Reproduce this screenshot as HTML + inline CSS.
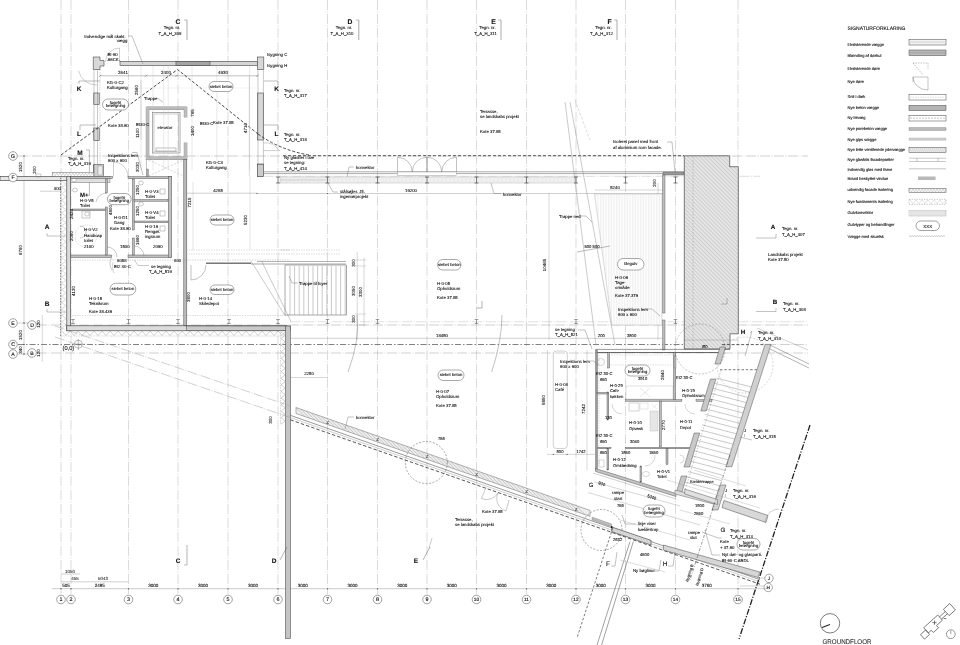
<!DOCTYPE html>
<html><head><meta charset="utf-8"><style>
html,body{margin:0;padding:0;background:#fff;width:960px;height:645px;overflow:hidden}
svg{display:block;will-change:transform;text-rendering:geometricPrecision;font-family:"Liberation Sans",sans-serif}
</style></head><body>
<svg width="960" height="645" viewBox="0 0 960 645">
<rect width="960" height="645" fill="#fff"/>
<line x1="61" y1="0" x2="61" y2="594" stroke="#cccccc" stroke-width="0.7" stroke-dasharray="10 1.5 1 1.5" />
<line x1="71" y1="0" x2="71" y2="594" stroke="#cccccc" stroke-width="0.7" stroke-dasharray="10 1.5 1 1.5" />
<line x1="128.5" y1="0" x2="128.5" y2="594" stroke="#cccccc" stroke-width="0.7" stroke-dasharray="10 1.5 1 1.5" />
<line x1="178" y1="0" x2="178" y2="594" stroke="#cccccc" stroke-width="0.7" stroke-dasharray="10 1.5 1 1.5" />
<line x1="228" y1="0" x2="228" y2="594" stroke="#cccccc" stroke-width="0.7" stroke-dasharray="10 1.5 1 1.5" />
<line x1="278" y1="0" x2="278" y2="594" stroke="#cccccc" stroke-width="0.7" stroke-dasharray="10 1.5 1 1.5" />
<line x1="327.5" y1="0" x2="327.5" y2="594" stroke="#cccccc" stroke-width="0.7" stroke-dasharray="10 1.5 1 1.5" />
<line x1="377.5" y1="0" x2="377.5" y2="594" stroke="#cccccc" stroke-width="0.7" stroke-dasharray="10 1.5 1 1.5" />
<line x1="427" y1="0" x2="427" y2="594" stroke="#cccccc" stroke-width="0.7" stroke-dasharray="10 1.5 1 1.5" />
<line x1="476.5" y1="0" x2="476.5" y2="594" stroke="#cccccc" stroke-width="0.7" stroke-dasharray="10 1.5 1 1.5" />
<line x1="526.5" y1="0" x2="526.5" y2="594" stroke="#cccccc" stroke-width="0.7" stroke-dasharray="10 1.5 1 1.5" />
<line x1="576" y1="0" x2="576" y2="594" stroke="#cccccc" stroke-width="0.7" stroke-dasharray="10 1.5 1 1.5" />
<line x1="625.5" y1="0" x2="625.5" y2="594" stroke="#cccccc" stroke-width="0.7" stroke-dasharray="10 1.5 1 1.5" />
<line x1="675.5" y1="0" x2="675.5" y2="594" stroke="#cccccc" stroke-width="0.7" stroke-dasharray="10 1.5 1 1.5" />
<line x1="738" y1="0" x2="738" y2="594" stroke="#cccccc" stroke-width="0.7" stroke-dasharray="10 1.5 1 1.5" />
<line x1="52" y1="588.7" x2="770" y2="588.7" stroke="#999" stroke-width="0.5" />
<circle cx="61" cy="588.7" r="0.7" fill="#666" stroke="none" stroke-width="0.5"/>
<circle cx="71" cy="588.7" r="0.7" fill="#666" stroke="none" stroke-width="0.5"/>
<circle cx="128.5" cy="588.7" r="0.7" fill="#666" stroke="none" stroke-width="0.5"/>
<circle cx="178" cy="588.7" r="0.7" fill="#666" stroke="none" stroke-width="0.5"/>
<circle cx="228" cy="588.7" r="0.7" fill="#666" stroke="none" stroke-width="0.5"/>
<circle cx="278" cy="588.7" r="0.7" fill="#666" stroke="none" stroke-width="0.5"/>
<circle cx="327.5" cy="588.7" r="0.7" fill="#666" stroke="none" stroke-width="0.5"/>
<circle cx="377.5" cy="588.7" r="0.7" fill="#666" stroke="none" stroke-width="0.5"/>
<circle cx="427" cy="588.7" r="0.7" fill="#666" stroke="none" stroke-width="0.5"/>
<circle cx="476.5" cy="588.7" r="0.7" fill="#666" stroke="none" stroke-width="0.5"/>
<circle cx="526.5" cy="588.7" r="0.7" fill="#666" stroke="none" stroke-width="0.5"/>
<circle cx="576" cy="588.7" r="0.7" fill="#666" stroke="none" stroke-width="0.5"/>
<circle cx="625.5" cy="588.7" r="0.7" fill="#666" stroke="none" stroke-width="0.5"/>
<circle cx="675.5" cy="588.7" r="0.7" fill="#666" stroke="none" stroke-width="0.5"/>
<circle cx="738" cy="588.7" r="0.7" fill="#666" stroke="none" stroke-width="0.5"/>
<text x="66.0" y="586.5" font-size="4.55" fill="#111" stroke="#111" stroke-width="0.1" text-anchor="middle" font-weight="normal" >505</text>
<text x="99.75" y="586.5" font-size="4.55" fill="#111" stroke="#111" stroke-width="0.1" text-anchor="middle" font-weight="normal" >2495</text>
<text x="153.25" y="586.5" font-size="4.55" fill="#111" stroke="#111" stroke-width="0.1" text-anchor="middle" font-weight="normal" >3000</text>
<text x="203.0" y="586.5" font-size="4.55" fill="#111" stroke="#111" stroke-width="0.1" text-anchor="middle" font-weight="normal" >3000</text>
<text x="253.0" y="586.5" font-size="4.55" fill="#111" stroke="#111" stroke-width="0.1" text-anchor="middle" font-weight="normal" >3000</text>
<text x="302.75" y="586.5" font-size="4.55" fill="#111" stroke="#111" stroke-width="0.1" text-anchor="middle" font-weight="normal" >3000</text>
<text x="352.5" y="586.5" font-size="4.55" fill="#111" stroke="#111" stroke-width="0.1" text-anchor="middle" font-weight="normal" >3000</text>
<text x="402.25" y="586.5" font-size="4.55" fill="#111" stroke="#111" stroke-width="0.1" text-anchor="middle" font-weight="normal" >3000</text>
<text x="451.75" y="586.5" font-size="4.55" fill="#111" stroke="#111" stroke-width="0.1" text-anchor="middle" font-weight="normal" >3000</text>
<text x="501.5" y="586.5" font-size="4.55" fill="#111" stroke="#111" stroke-width="0.1" text-anchor="middle" font-weight="normal" >3000</text>
<text x="551.25" y="586.5" font-size="4.55" fill="#111" stroke="#111" stroke-width="0.1" text-anchor="middle" font-weight="normal" >3000</text>
<text x="600.75" y="586.5" font-size="4.55" fill="#111" stroke="#111" stroke-width="0.1" text-anchor="middle" font-weight="normal" >3000</text>
<text x="650.5" y="586.5" font-size="4.55" fill="#111" stroke="#111" stroke-width="0.1" text-anchor="middle" font-weight="normal" >3000</text>
<text x="706.75" y="586.5" font-size="4.55" fill="#111" stroke="#111" stroke-width="0.1" text-anchor="middle" font-weight="normal" >3760</text>
<line x1="61" y1="581.8" x2="128.5" y2="581.8" stroke="#999" stroke-width="0.45" />
<text x="75" y="580" font-size="4.42" fill="#333" stroke="#333" stroke-width="0.1" text-anchor="middle" font-weight="normal" >455</text>
<text x="103" y="580" font-size="4.42" fill="#333" stroke="#333" stroke-width="0.1" text-anchor="middle" font-weight="normal" >5043</text>
<line x1="61" y1="574" x2="80" y2="574" stroke="#999" stroke-width="0.45" />
<text x="70" y="572.5" font-size="4.42" fill="#333" stroke="#333" stroke-width="0.1" text-anchor="middle" font-weight="normal" >1050</text>
<line x1="18" y1="156" x2="808" y2="156" stroke="#aaa" stroke-width="0.55" stroke-dasharray="10 1.5 1 1.5" />
<line x1="18" y1="177.5" x2="70" y2="177.5" stroke="#aaa" stroke-width="0.55" />
<line x1="18" y1="323" x2="40" y2="323" stroke="#aaa" stroke-width="0.55" stroke-dasharray="10 1.5 1 1.5" />
<line x1="290" y1="321.7" x2="808" y2="321.7" stroke="#c4c4c4" stroke-width="0.5" stroke-dasharray="10 1.5 1 1.5" />
<line x1="37" y1="325" x2="808" y2="325" stroke="#aaa" stroke-width="0.55" stroke-dasharray="10 1.5 1 1.5" />
<line x1="18" y1="344.5" x2="730" y2="344.5" stroke="#6a6a6a" stroke-width="0.85" stroke-dasharray="6 2 1.5 2" />
<line x1="766" y1="344.5" x2="808" y2="344.5" stroke="#aaa" stroke-width="0.55" stroke-dasharray="10 1.5 1 1.5" />
<line x1="37" y1="353" x2="808" y2="353" stroke="#aaa" stroke-width="0.55" stroke-dasharray="10 1.5 1 1.5" />
<line x1="18" y1="354" x2="36" y2="354" stroke="#aaa" stroke-width="0.55" />
<line x1="24" y1="156" x2="24" y2="355" stroke="#999" stroke-width="0.45" />
<text x="21.5" y="167" font-size="4.42" fill="#222" stroke="#222" stroke-width="0.1" text-anchor="middle" transform="rotate(-90 21.5 167)">1520</text>
<text x="21.5" y="250" font-size="4.42" fill="#222" stroke="#222" stroke-width="0.1" text-anchor="middle" transform="rotate(-90 21.5 250)">6760</text>
<text x="21.5" y="335" font-size="4.42" fill="#222" stroke="#222" stroke-width="0.1" text-anchor="middle" transform="rotate(-90 21.5 335)">1520</text>
<text x="21.5" y="350" font-size="4.42" fill="#222" stroke="#222" stroke-width="0.1" text-anchor="middle" transform="rotate(-90 21.5 350)">340</text>
<line x1="42.3" y1="315" x2="42.3" y2="362" stroke="#aaa" stroke-width="0.45" />
<text x="40" y="324" font-size="4.42" fill="#222" stroke="#222" stroke-width="0.1" text-anchor="middle" transform="rotate(-90 40 324)">120</text>
<text x="40" y="353" font-size="4.42" fill="#222" stroke="#222" stroke-width="0.1" text-anchor="middle" transform="rotate(-90 40 353)">120</text>
<circle cx="24" cy="156" r="0.7" fill="#555" stroke="none" stroke-width="0.5"/>
<circle cx="24" cy="177.5" r="0.7" fill="#555" stroke="none" stroke-width="0.5"/>
<circle cx="24" cy="323" r="0.7" fill="#555" stroke="none" stroke-width="0.5"/>
<circle cx="24" cy="344.5" r="0.7" fill="#555" stroke="none" stroke-width="0.5"/>
<circle cx="24" cy="354" r="0.7" fill="#555" stroke="none" stroke-width="0.5"/>
<rect x="120" y="61.3" width="137.5" height="4.2" fill="#d6d6d6" stroke="#444" stroke-width="0.6" />
<rect x="176" y="61.3" width="34" height="4.2" fill="#b0b0b0" stroke="#444" stroke-width="0.6" />
<line x1="178" y1="61.3" x2="178" y2="65.5" stroke="#666" stroke-width="0.3" />
<line x1="180" y1="61.3" x2="180" y2="65.5" stroke="#666" stroke-width="0.3" />
<line x1="182" y1="61.3" x2="182" y2="65.5" stroke="#666" stroke-width="0.3" />
<line x1="184" y1="61.3" x2="184" y2="65.5" stroke="#666" stroke-width="0.3" />
<line x1="186" y1="61.3" x2="186" y2="65.5" stroke="#666" stroke-width="0.3" />
<line x1="188" y1="61.3" x2="188" y2="65.5" stroke="#666" stroke-width="0.3" />
<line x1="190" y1="61.3" x2="190" y2="65.5" stroke="#666" stroke-width="0.3" />
<line x1="192" y1="61.3" x2="192" y2="65.5" stroke="#666" stroke-width="0.3" />
<line x1="194" y1="61.3" x2="194" y2="65.5" stroke="#666" stroke-width="0.3" />
<line x1="196" y1="61.3" x2="196" y2="65.5" stroke="#666" stroke-width="0.3" />
<line x1="198" y1="61.3" x2="198" y2="65.5" stroke="#666" stroke-width="0.3" />
<line x1="200" y1="61.3" x2="200" y2="65.5" stroke="#666" stroke-width="0.3" />
<line x1="202" y1="61.3" x2="202" y2="65.5" stroke="#666" stroke-width="0.3" />
<line x1="204" y1="61.3" x2="204" y2="65.5" stroke="#666" stroke-width="0.3" />
<line x1="206" y1="61.3" x2="206" y2="65.5" stroke="#666" stroke-width="0.3" />
<line x1="208" y1="61.3" x2="208" y2="65.5" stroke="#666" stroke-width="0.3" />
<polygon points="93.3,57 100,57 100,60.5 104,60.5 104,66 100,66 100,69.5 93.3,69.5" fill="#d8d8d8" stroke="#444" stroke-width="0.6" />
<rect x="257.5" y="57" width="6.3" height="12.5" fill="#d8d8d8" stroke="#444" stroke-width="0.6" />
<rect x="93.8" y="93" width="5.4" height="11.5" fill="#d8d8d8" stroke="#444" stroke-width="0.6" />
<rect x="93.8" y="128" width="5.4" height="12.5" fill="#d8d8d8" stroke="#444" stroke-width="0.6" />
<line x1="94" y1="69.5" x2="94" y2="165" stroke="#777" stroke-width="0.4" />
<line x1="97.5" y1="69.5" x2="97.5" y2="165" stroke="#777" stroke-width="0.4" />
<line x1="100" y1="69.5" x2="100" y2="165" stroke="#999" stroke-width="0.4" stroke-dasharray="1.5 1" />
<rect x="93.3" y="165" width="6.5" height="11.5" fill="#d8d8d8" stroke="#444" stroke-width="0.6" />
<rect x="257.5" y="93" width="5.8" height="47" fill="#d8d8d8" stroke="#444" stroke-width="0.6" />
<line x1="258" y1="69.5" x2="258" y2="164" stroke="#777" stroke-width="0.4" />
<line x1="263.4" y1="69.5" x2="263.4" y2="164" stroke="#777" stroke-width="0.4" />
<rect x="257.5" y="164" width="6" height="12.5" fill="#d8d8d8" stroke="#444" stroke-width="0.6" />
<line x1="100" y1="75.8" x2="257.5" y2="75.8" stroke="#777" stroke-width="0.45" />
<line x1="99" y1="76.8" x2="101" y2="74.8" stroke="#444" stroke-width="0.5" />
<line x1="145" y1="76.8" x2="147" y2="74.8" stroke="#444" stroke-width="0.5" />
<line x1="175.5" y1="76.8" x2="177.5" y2="74.8" stroke="#444" stroke-width="0.5" />
<line x1="256.5" y1="76.8" x2="258.5" y2="74.8" stroke="#444" stroke-width="0.5" />
<text x="123" y="73.5" font-size="4.42" fill="#111" stroke="#111" stroke-width="0.1" text-anchor="middle" font-weight="normal" >2641</text>
<text x="166" y="73.5" font-size="4.42" fill="#111" stroke="#111" stroke-width="0.1" text-anchor="middle" font-weight="normal" >2400</text>
<text x="223" y="73.5" font-size="4.42" fill="#111" stroke="#111" stroke-width="0.1" text-anchor="middle" font-weight="normal" >4930</text>
<path d="M186.8,117.5 L186.8,107 L146.3,107 L146.3,159.5 L186.8,159.5 L186.8,142.5" fill="none" stroke="#444" stroke-width="0.6" />
<path d="M184.3,117.5 L184.3,109.5 L148.8,109.5 L148.8,157 L184.3,157 L184.3,142.5" fill="none" stroke="#444" stroke-width="0.6" />
<rect x="146.3" y="107" width="40.5" height="2.5" fill="#bbb" stroke="none" stroke-width="0.6" />
<rect x="146.3" y="157" width="40.5" height="2.5" fill="#bbb" stroke="none" stroke-width="0.6" />
<rect x="146.3" y="107" width="2.5" height="52.5" fill="#bbb" stroke="none" stroke-width="0.6" />
<rect x="184.3" y="107" width="2.5" height="10.5" fill="#bbb" stroke="none" stroke-width="0.6" />
<rect x="184.3" y="142.5" width="2.5" height="17" fill="#bbb" stroke="none" stroke-width="0.6" />
<rect x="152.5" y="112.5" width="27.5" height="40.5" fill="none" stroke="#555" stroke-width="0.5" />
<rect x="154" y="114" width="24.5" height="37.5" fill="none" stroke="#888" stroke-width="0.4" />
<rect x="156" y="148" width="20" height="3" fill="none" stroke="#666" stroke-width="0.4" />
<text x="165" y="128.5" font-size="4.16" fill="#111" stroke="#111" stroke-width="0.1" text-anchor="middle" font-weight="normal" >elevator</text>
<rect x="183.8" y="159.5" width="3" height="166" fill="#bbb" stroke="#444" stroke-width="0.5" />
<polyline points="61,155 177.5,69.5 258,134" fill="none" stroke="#333" stroke-width="0.9" stroke-dasharray="3 1.8" />
<path d="M258,134 Q280,150 309,155" fill="none" stroke="#333" stroke-width="0.9" stroke-dasharray="3 1.8" />
<line x1="141" y1="66" x2="141" y2="170" stroke="#c4c4c4" stroke-width="0.4" />
<line x1="153" y1="66" x2="153" y2="170" stroke="#c4c4c4" stroke-width="0.4" />
<line x1="163.75" y1="66" x2="163.75" y2="170" stroke="#c4c4c4" stroke-width="0.4" />
<line x1="168.2" y1="66" x2="168.2" y2="170" stroke="#c4c4c4" stroke-width="0.4" />
<line x1="192" y1="66" x2="192" y2="170" stroke="#c4c4c4" stroke-width="0.4" />
<line x1="216.9" y1="66" x2="216.9" y2="170" stroke="#c4c4c4" stroke-width="0.4" />
<line x1="249.6" y1="66" x2="249.6" y2="170" stroke="#c4c4c4" stroke-width="0.4" />
<line x1="101" y1="88" x2="257" y2="88" stroke="#ddd" stroke-width="0.35" />
<path d="M79,81 L100,81" fill="none" stroke="#555" stroke-width="0.4" />
<path d="M80,125 L96,125" fill="none" stroke="#555" stroke-width="0.4" />
<path d="M78.6,70.7 A18.4,18.4 0 0 0 97,85" fill="none" stroke="#888" stroke-width="0.4" />
<path d="M119.5,62 V48 A14,14 0 0 0 105.5,62" fill="none" stroke="#888" stroke-width="0.4" />
<path d="M263.4,143 A16,16 0 0 1 279,150.6" fill="none" stroke="#888" stroke-width="0.4" />
<line x1="263.4" y1="150.6" x2="280" y2="150.6" stroke="#888" stroke-width="0.4" />
<text x="105" y="37.5" font-size="4.29" fill="#111" stroke="#111" stroke-width="0.1" text-anchor="middle" font-weight="normal" >Indvendige mål skakt.</text>
<text x="122" y="42" font-size="4.29" fill="#111" stroke="#111" stroke-width="0.1" text-anchor="middle" font-weight="normal" >vægg</text>
<polyline points="128,36 132,36 143,64" fill="none" stroke="#666" stroke-width="0.4" />
<text x="107.5" y="55.5" font-size="4.29" fill="#111" stroke="#111" stroke-width="0.1" text-anchor="start" font-weight="normal" >EI-60</text>
<text x="107.5" y="60.5" font-size="4.29" fill="#111" stroke="#111" stroke-width="0.1" text-anchor="start" font-weight="normal" >A6CK.</text>
<text x="267" y="56" font-size="4.29" fill="#111" stroke="#111" stroke-width="0.1" text-anchor="start" font-weight="normal" >Isygning C</text>
<text x="267" y="67" font-size="4.29" fill="#111" stroke="#111" stroke-width="0.1" text-anchor="start" font-weight="normal" >Isygning H</text>
<text x="79" y="90.5" font-size="6.5" fill="#111" stroke="#111" stroke-width="0.1" text-anchor="middle" font-weight="bold" >K</text>
<text x="79" y="135.5" font-size="6.5" fill="#111" stroke="#111" stroke-width="0.1" text-anchor="middle" font-weight="bold" >L</text>
<text x="276.5" y="90.5" font-size="6.5" fill="#111" stroke="#111" stroke-width="0.1" text-anchor="middle" font-weight="bold" >K</text>
<text x="276.5" y="135.5" font-size="6.5" fill="#111" stroke="#111" stroke-width="0.1" text-anchor="middle" font-weight="bold" >L</text>
<line x1="79" y1="81" x2="79" y2="84" stroke="#555" stroke-width="0.4" />
<line x1="80" y1="125" x2="80" y2="130" stroke="#555" stroke-width="0.4" />
<line x1="264" y1="81" x2="278" y2="81" stroke="#555" stroke-width="0.4" />
<line x1="278" y1="81" x2="278" y2="85" stroke="#555" stroke-width="0.4" />
<line x1="264" y1="125" x2="278" y2="125" stroke="#555" stroke-width="0.4" />
<line x1="278" y1="125" x2="278" y2="130" stroke="#555" stroke-width="0.4" />
<text x="284" y="91.5" font-size="4.29" fill="#111" stroke="#111" stroke-width="0.1" text-anchor="start" font-weight="normal" >Tegn. nr.</text>
<text x="284" y="97" font-size="4.29" fill="#111" stroke="#111" stroke-width="0.1" text-anchor="start" font-weight="normal" >T_A_H_317</text>
<text x="284" y="135.5" font-size="4.29" fill="#111" stroke="#111" stroke-width="0.1" text-anchor="start" font-weight="normal" >Tegn. nr.</text>
<text x="284" y="141" font-size="4.29" fill="#111" stroke="#111" stroke-width="0.1" text-anchor="start" font-weight="normal" >T_A_H_318</text>
<text x="107" y="84" font-size="4.29" fill="#111" stroke="#111" stroke-width="0.1" text-anchor="start" font-weight="normal" >KG-0-C2</text>
<text x="107" y="89" font-size="4.29" fill="#111" stroke="#111" stroke-width="0.1" text-anchor="start" font-weight="normal" >Kulturgang</text>
<rect x="209" y="81.5" width="24" height="10.0" fill="#fff" stroke="#555" stroke-width="0.5" rx="5.0" ry="5.0"/>
<text x="221.0" y="87.62" font-size="4.16" fill="#111" stroke="#111" stroke-width="0.1" text-anchor="middle" font-weight="normal" >siebet beton</text>
<rect x="102.5" y="99" width="26.0" height="11" fill="#fff" stroke="#555" stroke-width="0.5" rx="5.5" ry="5.5"/>
<text x="115.5" y="103.9" font-size="4.16" fill="#111" stroke="#111" stroke-width="0.1" text-anchor="middle" font-weight="normal" >fugefri</text>
<text x="115.5" y="107.38" font-size="4.16" fill="#111" stroke="#111" stroke-width="0.1" text-anchor="middle" font-weight="normal" >belægning</text>
<text x="144" y="99.5" font-size="4.29" fill="#111" stroke="#111" stroke-width="0.1" text-anchor="start" font-weight="normal" >Trappe</text>
<line x1="157" y1="98" x2="163" y2="102" stroke="#666" stroke-width="0.4" />
<text x="108" y="127" font-size="4.29" fill="#111" stroke="#111" stroke-width="0.1" text-anchor="start" font-weight="normal" >Kote  38.60</text>
<text x="136" y="125.5" font-size="4.29" fill="#111" stroke="#111" stroke-width="0.1" text-anchor="start" font-weight="normal" >EI30-C</text>
<text x="200" y="125" font-size="4.29" fill="#111" stroke="#111" stroke-width="0.1" text-anchor="start" font-weight="normal" >EI30-C</text>
<text x="213" y="124" font-size="4.29" fill="#111" stroke="#111" stroke-width="0.1" text-anchor="start" font-weight="normal" >Kote  37.85</text>
<text x="139" y="133" font-size="4.42" fill="#222" stroke="#222" stroke-width="0.1" text-anchor="middle" transform="rotate(-90 139 133)">1100</text>
<text x="194" y="113" font-size="4.42" fill="#222" stroke="#222" stroke-width="0.1" text-anchor="middle" transform="rotate(-90 194 113)">765</text>
<text x="194" y="131" font-size="4.42" fill="#222" stroke="#222" stroke-width="0.1" text-anchor="middle" transform="rotate(-90 194 131)">1400</text>
<text x="246.5" y="128" font-size="4.42" fill="#222" stroke="#222" stroke-width="0.1" text-anchor="middle" transform="rotate(-90 246.5 128)">4710</text>
<line x1="249.3" y1="76" x2="249.3" y2="176" stroke="#999" stroke-width="0.35" />
<text x="138" y="90" font-size="4.42" fill="#222" stroke="#222" stroke-width="0.1" text-anchor="middle" transform="rotate(-90 138 90)">2560</text>
<line x1="141" y1="80" x2="141" y2="140" stroke="#999" stroke-width="0.35" />
<text x="80" y="155" font-size="6.5" fill="#111" stroke="#111" stroke-width="0.1" text-anchor="middle" font-weight="bold" >M</text>
<text x="68" y="160" font-size="4.29" fill="#111" stroke="#111" stroke-width="0.1" text-anchor="start" font-weight="normal" >Tegn. nr.</text>
<text x="68" y="165" font-size="4.29" fill="#111" stroke="#111" stroke-width="0.1" text-anchor="start" font-weight="normal" >T_A_H_319</text>
<line x1="89.4" y1="150" x2="89.4" y2="196" stroke="#555" stroke-width="0.4" />
<line x1="86" y1="150" x2="89.4" y2="150" stroke="#555" stroke-width="0.4" />
<text x="108" y="157" font-size="4.29" fill="#111" stroke="#111" stroke-width="0.1" text-anchor="start" font-weight="normal" >Inspektions lem</text>
<text x="108" y="162" font-size="4.29" fill="#111" stroke="#111" stroke-width="0.1" text-anchor="start" font-weight="normal" >600 x 600</text>
<polyline points="132,152.5 137,152.5 143,175" fill="none" stroke="#666" stroke-width="0.4" />
<line x1="146.4" y1="159" x2="146.4" y2="169" stroke="#666" stroke-width="0.4" />
<rect x="146.4" y="169" width="2" height="7.7" fill="#aaa" stroke="#555" stroke-width="0.35" />
<path d="M148.5,160 L183.5,176 M148.5,176 L183.5,160" fill="none" stroke="#999" stroke-width="0.4" stroke-dasharray="2 1.5" />
<path d="M113.5,176.5 V162 A14.5,14.5 0 0 1 128,176.5" fill="none" stroke="#888" stroke-width="0.4" />
<text x="206" y="164" font-size="4.29" fill="#111" stroke="#111" stroke-width="0.1" text-anchor="start" font-weight="normal" >KG-0-C3</text>
<text x="206" y="169" font-size="4.29" fill="#111" stroke="#111" stroke-width="0.1" text-anchor="start" font-weight="normal" >Kulturgang</text>
<text x="284" y="159" font-size="4.29" fill="#111" stroke="#111" stroke-width="0.1" text-anchor="start" font-weight="normal" >Ny glastler i træ</text>
<text x="284" y="164" font-size="4.29" fill="#111" stroke="#111" stroke-width="0.1" text-anchor="start" font-weight="normal" >se tegning:</text>
<text x="284" y="169.5" font-size="4.29" fill="#111" stroke="#111" stroke-width="0.1" text-anchor="start" font-weight="normal" >T_A_H_414</text>
<text x="139" y="167" font-size="4.42" fill="#222" stroke="#222" stroke-width="0.1" text-anchor="middle" transform="rotate(-90 139 167)">3030</text>
<text x="178" y="24" font-size="6.76" fill="#111" stroke="#111" stroke-width="0.1" text-anchor="middle" font-weight="bold" >C</text>
<line x1="187" y1="20" x2="187" y2="40" stroke="#555" stroke-width="0.5" />
<line x1="184" y1="20" x2="187" y2="20" stroke="#555" stroke-width="0.4" />
<text x="172" y="29" font-size="4.29" fill="#111" stroke="#111" stroke-width="0.1" text-anchor="middle" font-weight="normal" >Tegn. nr.</text>
<text x="170" y="34.5" font-size="4.29" fill="#111" stroke="#111" stroke-width="0.1" text-anchor="middle" font-weight="normal" >T_A_H_309</text>
<text x="350" y="24" font-size="6.76" fill="#111" stroke="#111" stroke-width="0.1" text-anchor="middle" font-weight="bold" >D</text>
<line x1="358.8" y1="20" x2="358.8" y2="40" stroke="#555" stroke-width="0.5" />
<line x1="355.8" y1="20" x2="358.8" y2="20" stroke="#555" stroke-width="0.4" />
<text x="344" y="29" font-size="4.29" fill="#111" stroke="#111" stroke-width="0.1" text-anchor="middle" font-weight="normal" >Tegn. nr.</text>
<text x="342" y="34.5" font-size="4.29" fill="#111" stroke="#111" stroke-width="0.1" text-anchor="middle" font-weight="normal" >T_A_H_310</text>
<text x="493.5" y="24" font-size="6.76" fill="#111" stroke="#111" stroke-width="0.1" text-anchor="middle" font-weight="bold" >E</text>
<line x1="501" y1="20" x2="501" y2="40" stroke="#555" stroke-width="0.5" />
<line x1="498" y1="20" x2="501" y2="20" stroke="#555" stroke-width="0.4" />
<text x="487.5" y="29" font-size="4.29" fill="#111" stroke="#111" stroke-width="0.1" text-anchor="middle" font-weight="normal" >Tegn. nr.</text>
<text x="485.5" y="34.5" font-size="4.29" fill="#111" stroke="#111" stroke-width="0.1" text-anchor="middle" font-weight="normal" >T_A_H_311</text>
<text x="609.5" y="24" font-size="6.76" fill="#111" stroke="#111" stroke-width="0.1" text-anchor="middle" font-weight="bold" >F</text>
<line x1="617" y1="20" x2="617" y2="40" stroke="#555" stroke-width="0.5" />
<line x1="614" y1="20" x2="617" y2="20" stroke="#555" stroke-width="0.4" />
<text x="603.5" y="29" font-size="4.29" fill="#111" stroke="#111" stroke-width="0.1" text-anchor="middle" font-weight="normal" >Tegn. nr.</text>
<text x="601.5" y="34.5" font-size="4.29" fill="#111" stroke="#111" stroke-width="0.1" text-anchor="middle" font-weight="normal" >T_A_H_312</text>
<rect x="0" y="176.3" width="70.5" height="4.1" fill="#e6e6e6" stroke="#333" stroke-width="0.6" />
<rect x="66.8" y="176.3" width="3.9" height="154.5" fill="#dcdcdc" stroke="#333" stroke-width="0.6" />
<rect x="66.8" y="325.8" width="220" height="5" fill="#dcdcdc" stroke="#333" stroke-width="0.6" />
<rect x="186.5" y="326" width="104" height="4.5" fill="#cacaca" stroke="#444" stroke-width="0.5" />
<line x1="60.7" y1="172" x2="60.7" y2="336" stroke="#444" stroke-width="0.7" stroke-dasharray="1.6 1.2" />
<polyline points="62,331 66,335.5 70,331 74,335.5 78,331 82,335.5 86,331 90,335.5 94,331 98,335.5 102,331 106,335.5 110,331 114,335.5 118,331 122,335.5 126,331 130,335.5 134,331 138,335.5 142,331 146,335.5 150,331 154,335.5 158,331 162,335.5 166,331 170,335.5 174,331 178,335.5 182,331 186,335.5 190,331 194,335.5 198,331 202,335.5 206,331 210,335.5 214,331 218,335.5 222,331 226,335.5 230,331 234,335.5 238,331 242,335.5 246,331 250,335.5 254,331 258,335.5 262,331 266,335.5 270,331 274,335.5 278,331 282,335.5 286,331 290,335.5" fill="none" stroke="#888" stroke-width="0.4" />
<line x1="60.8" y1="336" x2="290" y2="336" stroke="#999" stroke-width="0.4" stroke-dasharray="1.5 1" />
<rect x="52.7" y="172.3" width="41.3" height="4" fill="#fff" stroke="#555" stroke-width="0.45" />
<polyline points="53.5,173 55.1,175.6 56.7,173 58.3,175.6 59.9,173 61.5,175.6 63.1,173 64.7,175.6 66.3,173 67.9,175.6 69.5,173 71.1,175.6 72.7,173 74.3,175.6 75.9,173 77.5,175.6 79.1,173 80.7,175.6 82.3,173 83.9,175.6 85.5,173 87.1,175.6 88.7,173 90.30000000000001,175.6 91.9,173 93.5,175.6" fill="none" stroke="#888" stroke-width="0.35" />
<rect x="94" y="164.3" width="9.7" height="12" fill="#d0d0d0" stroke="#444" stroke-width="0.5" />
<rect x="98" y="166" width="4.5" height="9" fill="#eee" stroke="#666" stroke-width="0.3" />
<polyline points="61.5,181.0 66.3,184.2 61.5,187.4 66.3,190.6 61.5,193.8 66.3,197.0 61.5,200.2 66.3,203.4 61.5,206.6 66.3,209.8 61.5,213.0 66.3,216.2 61.5,219.4 66.3,222.6 61.5,225.8 66.3,229.0 61.5,232.2 66.3,235.4 61.5,238.6 66.3,241.8 61.5,245.0 66.3,248.2 61.5,251.4 66.3,254.60000000000002 61.5,257.8 66.3,261.0 61.5,264.2 66.3,267.4 61.5,270.6 66.3,273.8 61.5,277.0 66.3,280.2 61.5,283.4 66.3,286.6 61.5,289.8 66.3,293.0 61.5,296.2 66.3,299.4 61.5,302.6 66.3,305.8 61.5,309.0 66.3,312.20000000000005 61.5,315.4 66.3,318.6 61.5,321.8 66.3,325.0 61.5,328.20000000000005" fill="none" stroke="#999" stroke-width="0.35" />
<rect x="70.7" y="176.3" width="39.3" height="6.3" fill="#e0e0e0" stroke="#555" stroke-width="0.4" />
<rect x="72" y="177.5" width="4" height="4" fill="#fff" stroke="#666" stroke-width="0.3" />
<rect x="70.8" y="176.7" width="41.7" height="1.9000000000000057" fill="#c0c0c0" stroke="#444" stroke-width="0.45" />
<rect x="128" y="176.7" width="43.69999999999999" height="1.9000000000000057" fill="#c0c0c0" stroke="#444" stroke-width="0.45" />
<rect x="70.8" y="255" width="40.900000000000006" height="2.5" fill="#c0c0c0" stroke="#444" stroke-width="0.45" />
<rect x="128" y="255" width="43.69999999999999" height="2.5" fill="#c0c0c0" stroke="#444" stroke-width="0.45" />
<rect x="168.3" y="176.7" width="3.3999999999999773" height="80.80000000000001" fill="#c0c0c0" stroke="#444" stroke-width="0.45" />
<rect x="105.6" y="179" width="1.7000000000000028" height="14" fill="#bbb" stroke="#444" stroke-width="0.4" />
<rect x="105.6" y="207" width="1.7000000000000028" height="48" fill="#bbb" stroke="#444" stroke-width="0.4" />
<rect x="132.4" y="179" width="1.9000000000000057" height="51" fill="#bbb" stroke="#444" stroke-width="0.4" />
<rect x="132.4" y="238" width="1.9000000000000057" height="17" fill="#bbb" stroke="#444" stroke-width="0.4" />
<rect x="72" y="209" width="34" height="1.5999999999999943" fill="#bbb" stroke="#444" stroke-width="0.4" />
<rect x="134" y="199.5" width="34" height="1.6999999999999886" fill="#bbb" stroke="#444" stroke-width="0.4" />
<rect x="134" y="221" width="34" height="1.6999999999999886" fill="#bbb" stroke="#444" stroke-width="0.4" />
<ellipse cx="75" cy="190" rx="2.4" ry="2" fill="none" stroke="#777" stroke-width="0.4"/>
<ellipse cx="141" cy="183" rx="2.4" ry="2" fill="none" stroke="#777" stroke-width="0.4"/>
<ellipse cx="141" cy="204" rx="2.4" ry="2" fill="none" stroke="#777" stroke-width="0.4"/>
<ellipse cx="87" cy="214" rx="2.4" ry="2" fill="none" stroke="#777" stroke-width="0.4"/>
<rect x="160" y="189" width="5" height="5" fill="none" stroke="#777" stroke-width="0.4" />
<rect x="160" y="211" width="5" height="5" fill="none" stroke="#777" stroke-width="0.4" />
<rect x="160" y="226" width="5" height="5" fill="none" stroke="#777" stroke-width="0.4" />
<rect x="82" y="211" width="8" height="7" fill="none" stroke="#777" stroke-width="0.4" />
<path d="M96,202 A11,11 0 0 1 107,193" fill="none" stroke="#777" stroke-width="0.4" />
<path d="M107,247 A10,10 0 0 1 117,257" fill="none" stroke="#777" stroke-width="0.4" />
<path d="M134,246 A10,10 0 0 1 144,256" fill="none" stroke="#777" stroke-width="0.4" />
<path d="M111.7,257.5 A12,12 0 0 0 112,270" fill="none" stroke="#777" stroke-width="0.4" />
<path d="M80,226 A6,6 0 0 1 80,238" fill="none" stroke="#777" stroke-width="0.4" />
<circle cx="86" cy="236" r="11" fill="none" stroke="#aaa" stroke-width="0.35" stroke-dasharray="1.5 1"/>
<text x="80" y="197" font-size="5.98" fill="#111" stroke="#111" stroke-width="0.1" text-anchor="start" font-weight="bold" >M+</text>
<text x="80" y="202" font-size="4.29" fill="#111" stroke="#111" stroke-width="0.1" text-anchor="start" font-weight="normal" >H-0-V5</text>
<text x="80" y="207" font-size="4.29" fill="#111" stroke="#111" stroke-width="0.1" text-anchor="start" font-weight="normal" >Toilet</text>
<text x="145" y="193" font-size="4.29" fill="#111" stroke="#111" stroke-width="0.1" text-anchor="start" font-weight="normal" >H-0-V3</text>
<text x="145" y="198.2" font-size="4.29" fill="#111" stroke="#111" stroke-width="0.1" text-anchor="start" font-weight="normal" >Toilet</text>
<text x="145" y="213.5" font-size="4.29" fill="#111" stroke="#111" stroke-width="0.1" text-anchor="start" font-weight="normal" >H-0-V4</text>
<text x="145" y="218.7" font-size="4.29" fill="#111" stroke="#111" stroke-width="0.1" text-anchor="start" font-weight="normal" >Toilet</text>
<text x="114" y="218.6" font-size="4.29" fill="#111" stroke="#111" stroke-width="0.1" text-anchor="start" font-weight="normal" >H-0-D1</text>
<text x="114" y="223.8" font-size="4.29" fill="#111" stroke="#111" stroke-width="0.1" text-anchor="start" font-weight="normal" >Gang</text>
<text x="110" y="230" font-size="4.29" fill="#111" stroke="#111" stroke-width="0.1" text-anchor="start" font-weight="normal" >Kote  38.60</text>
<text x="145" y="227.5" font-size="4.29" fill="#111" stroke="#111" stroke-width="0.1" text-anchor="start" font-weight="normal" >H-0-16</text>
<text x="145" y="233" font-size="4.29" fill="#111" stroke="#111" stroke-width="0.1" text-anchor="start" font-weight="normal" >Rengør.</text>
<text x="145" y="238" font-size="4.29" fill="#111" stroke="#111" stroke-width="0.1" text-anchor="start" font-weight="normal" >ingsrum</text>
<text x="84" y="231" font-size="4.29" fill="#111" stroke="#111" stroke-width="0.1" text-anchor="start" font-weight="normal" >H-0-V2</text>
<text x="84" y="236.5" font-size="4.29" fill="#111" stroke="#111" stroke-width="0.1" text-anchor="start" font-weight="normal" >Handicap</text>
<text x="84" y="242" font-size="4.29" fill="#111" stroke="#111" stroke-width="0.1" text-anchor="start" font-weight="normal" >toilet</text>
<text x="84" y="247.5" font-size="4.29" fill="#111" stroke="#111" stroke-width="0.1" text-anchor="start" font-weight="normal" >2100</text>
<text x="120" y="247.5" font-size="4.29" fill="#111" stroke="#111" stroke-width="0.1" text-anchor="start" font-weight="normal" >1500</text>
<text x="153" y="247.5" font-size="4.29" fill="#111" stroke="#111" stroke-width="0.1" text-anchor="start" font-weight="normal" >2090</text>
<text x="117" y="262" font-size="4.29" fill="#111" stroke="#111" stroke-width="0.1" text-anchor="start" font-weight="normal" >6058</text>
<text x="114" y="268" font-size="4.29" fill="#111" stroke="#111" stroke-width="0.1" text-anchor="start" font-weight="normal" >EI2 30-C</text>
<text x="151" y="267.5" font-size="4.29" fill="#111" stroke="#111" stroke-width="0.1" text-anchor="start" font-weight="normal" >se tegning</text>
<text x="149" y="272.5" font-size="4.29" fill="#111" stroke="#111" stroke-width="0.1" text-anchor="start" font-weight="normal" >T_A_H_519</text>
<text x="174" y="262" font-size="4.29" fill="#111" stroke="#111" stroke-width="0.1" text-anchor="start" font-weight="normal" >800</text>
<text x="89" y="300" font-size="4.29" fill="#111" stroke="#111" stroke-width="0.1" text-anchor="start" font-weight="normal" >H-0-15</text>
<text x="89" y="305" font-size="4.29" fill="#111" stroke="#111" stroke-width="0.1" text-anchor="start" font-weight="normal" >Teknikrum</text>
<text x="89" y="313" font-size="4.29" fill="#111" stroke="#111" stroke-width="0.1" text-anchor="start" font-weight="normal" >Kote  38.436</text>
<text x="53.8" y="189.5" font-size="4.29" fill="#111" stroke="#111" stroke-width="0.1" text-anchor="start" font-weight="normal" >300</text>
<text x="199" y="300" font-size="4.29" fill="#111" stroke="#111" stroke-width="0.1" text-anchor="start" font-weight="normal" >H-0-14</text>
<text x="199" y="305" font-size="4.29" fill="#111" stroke="#111" stroke-width="0.1" text-anchor="start" font-weight="normal" >Skiledepot</text>
<text x="62.5" y="349.5" font-size="5.72" fill="#111" stroke="#111" stroke-width="0.1" text-anchor="start" font-weight="normal" >(0,0)</text>
<rect x="107.4" y="193.5" width="23.799999999999983" height="11.199999999999989" fill="#fff" stroke="#555" stroke-width="0.5" rx="5.599999999999994" ry="5.599999999999994"/>
<text x="119.3" y="198.5" font-size="4.16" fill="#111" stroke="#111" stroke-width="0.1" text-anchor="middle" font-weight="normal" >fugefri</text>
<text x="119.3" y="201.98" font-size="4.16" fill="#111" stroke="#111" stroke-width="0.1" text-anchor="middle" font-weight="normal" >belægning</text>
<rect x="110" y="283.3" width="25.80000000000001" height="11.699999999999989" fill="#fff" stroke="#555" stroke-width="0.5" rx="5.849999999999994" ry="5.849999999999994"/>
<text x="122.9" y="290.27" font-size="4.16" fill="#111" stroke="#111" stroke-width="0.1" text-anchor="middle" font-weight="normal" >siebet beton</text>
<rect x="210" y="215" width="24" height="10" fill="#fff" stroke="#555" stroke-width="0.5" rx="5.0" ry="5.0"/>
<text x="222.0" y="221.12" font-size="4.16" fill="#111" stroke="#111" stroke-width="0.1" text-anchor="middle" font-weight="normal" >siebet beton</text>
<rect x="210" y="285" width="24" height="9.5" fill="#fff" stroke="#555" stroke-width="0.5" rx="4.75" ry="4.75"/>
<text x="222.0" y="290.87" font-size="4.16" fill="#111" stroke="#111" stroke-width="0.1" text-anchor="middle" font-weight="normal" >siebet beton</text>
<text x="75" y="291" font-size="4.42" fill="#222" stroke="#222" stroke-width="0.1" text-anchor="middle" transform="rotate(-90 75 291)">4130</text>
<text x="190" y="297" font-size="4.42" fill="#222" stroke="#222" stroke-width="0.1" text-anchor="middle" transform="rotate(-90 190 297)">3600</text>
<text x="73" y="214" font-size="4.42" fill="#222" stroke="#222" stroke-width="0.1" text-anchor="middle" transform="rotate(-90 73 214)">2424</text>
<text x="112" y="210" font-size="4.42" fill="#222" stroke="#222" stroke-width="0.1" text-anchor="middle" transform="rotate(-90 112 210)">4900</text>
<text x="139" y="190" font-size="4.42" fill="#222" stroke="#222" stroke-width="0.1" text-anchor="middle" transform="rotate(-90 139 190)">1250</text>
<text x="139" y="211" font-size="4.42" fill="#222" stroke="#222" stroke-width="0.1" text-anchor="middle" transform="rotate(-90 139 211)">1250</text>
<text x="139" y="240" font-size="4.42" fill="#222" stroke="#222" stroke-width="0.1" text-anchor="middle" transform="rotate(-90 139 240)">1660</text>
<text x="73" y="236" font-size="4.42" fill="#222" stroke="#222" stroke-width="0.1" text-anchor="middle" transform="rotate(-90 73 236)">2080</text>
<text x="191" y="202.5" font-size="4.42" fill="#222" stroke="#222" stroke-width="0.1" text-anchor="middle" transform="rotate(-90 191 202.5)">7215</text>
<text x="247" y="220" font-size="4.42" fill="#222" stroke="#222" stroke-width="0.1" text-anchor="middle" transform="rotate(-90 247 220)">5230</text>
<line x1="193" y1="182" x2="193" y2="250" stroke="#bbb" stroke-width="0.4" />
<line x1="250" y1="176" x2="250" y2="250" stroke="#bbb" stroke-width="0.4" />
<text x="218" y="191.5" font-size="4.29" fill="#111" stroke="#111" stroke-width="0.1" text-anchor="middle" font-weight="normal" >4285</text>
<line x1="186" y1="193.2" x2="257" y2="193.2" stroke="#888" stroke-width="0.4" />
<text x="47" y="229" font-size="6.5" fill="#111" stroke="#111" stroke-width="0.1" text-anchor="middle" font-weight="bold" >A</text>
<polyline points="47,233 47,236 65,236" fill="none" stroke="#666" stroke-width="0.4" />
<text x="47" y="306" font-size="6.5" fill="#111" stroke="#111" stroke-width="0.1" text-anchor="middle" font-weight="bold" >B</text>
<polyline points="47,309 47,312 65,312" fill="none" stroke="#666" stroke-width="0.4" />
<line x1="40" y1="191.2" x2="62" y2="191.2" stroke="#888" stroke-width="0.4" />
<circle cx="78.3" cy="344.2" r="4" fill="none" stroke="#666" stroke-width="0.45"/>
<line x1="72" y1="344.2" x2="85" y2="344.2" stroke="#666" stroke-width="0.45" />
<line x1="78.3" y1="339" x2="78.3" y2="350" stroke="#666" stroke-width="0.45" />
<polyline points="149,265.5 138,265.5 134.5,260" fill="none" stroke="#777" stroke-width="0.4" />
<path d="M113,262 Q112,270 114,273" fill="none" stroke="#888" stroke-width="0.4" />
<line x1="72" y1="260" x2="290" y2="260" stroke="#999" stroke-width="0.4" stroke-dasharray="1.5 1" />
<line x1="72" y1="315.5" x2="290" y2="315.5" stroke="#aaa" stroke-width="0.4" stroke-dasharray="1.5 1" />
<rect x="36" y="174" width="5" height="3" fill="none" stroke="#777" stroke-width="0.35" />
<text x="36" y="170" font-size="4.42" fill="#222" stroke="#222" stroke-width="0.1" text-anchor="middle" transform="rotate(-90 36 170)">200</text>
<line x1="283" y1="155.7" x2="684" y2="155.7" stroke="#444" stroke-width="0.9" stroke-dasharray="3 2" />
<line x1="263.5" y1="171.8" x2="684" y2="171.8" stroke="#666" stroke-width="0.55" />
<line x1="263.5" y1="173.6" x2="663" y2="173.6" stroke="#666" stroke-width="0.55" />
<line x1="263.5" y1="176.3" x2="760" y2="176.3" stroke="#aaa" stroke-width="0.4" stroke-dasharray="10 1.5 1 1.5" />
<rect x="663" y="172" width="21" height="3" fill="#999" stroke="#555" stroke-width="0.4" />
<rect x="257.5" y="164.4" width="6.2" height="12" fill="#ccc" stroke="#444" stroke-width="0.5" />
<rect x="280" y="177" width="296" height="6" fill="#f0f0f0" stroke="#aaa" stroke-width="0.4" />
<line x1="282" y1="178" x2="282" y2="182" stroke="#ccc" stroke-width="0.3" />
<line x1="286" y1="178" x2="286" y2="182" stroke="#ccc" stroke-width="0.3" />
<line x1="290" y1="178" x2="290" y2="182" stroke="#ccc" stroke-width="0.3" />
<line x1="294" y1="178" x2="294" y2="182" stroke="#ccc" stroke-width="0.3" />
<line x1="298" y1="178" x2="298" y2="182" stroke="#ccc" stroke-width="0.3" />
<line x1="302" y1="178" x2="302" y2="182" stroke="#ccc" stroke-width="0.3" />
<line x1="306" y1="178" x2="306" y2="182" stroke="#ccc" stroke-width="0.3" />
<line x1="310" y1="178" x2="310" y2="182" stroke="#ccc" stroke-width="0.3" />
<line x1="314" y1="178" x2="314" y2="182" stroke="#ccc" stroke-width="0.3" />
<line x1="318" y1="178" x2="318" y2="182" stroke="#ccc" stroke-width="0.3" />
<line x1="322" y1="178" x2="322" y2="182" stroke="#ccc" stroke-width="0.3" />
<line x1="326" y1="178" x2="326" y2="182" stroke="#ccc" stroke-width="0.3" />
<line x1="330" y1="178" x2="330" y2="182" stroke="#ccc" stroke-width="0.3" />
<line x1="334" y1="178" x2="334" y2="182" stroke="#ccc" stroke-width="0.3" />
<line x1="338" y1="178" x2="338" y2="182" stroke="#ccc" stroke-width="0.3" />
<line x1="342" y1="178" x2="342" y2="182" stroke="#ccc" stroke-width="0.3" />
<line x1="346" y1="178" x2="346" y2="182" stroke="#ccc" stroke-width="0.3" />
<line x1="350" y1="178" x2="350" y2="182" stroke="#ccc" stroke-width="0.3" />
<line x1="354" y1="178" x2="354" y2="182" stroke="#ccc" stroke-width="0.3" />
<line x1="358" y1="178" x2="358" y2="182" stroke="#ccc" stroke-width="0.3" />
<line x1="362" y1="178" x2="362" y2="182" stroke="#ccc" stroke-width="0.3" />
<line x1="366" y1="178" x2="366" y2="182" stroke="#ccc" stroke-width="0.3" />
<line x1="370" y1="178" x2="370" y2="182" stroke="#ccc" stroke-width="0.3" />
<line x1="374" y1="178" x2="374" y2="182" stroke="#ccc" stroke-width="0.3" />
<line x1="378" y1="178" x2="378" y2="182" stroke="#ccc" stroke-width="0.3" />
<line x1="382" y1="178" x2="382" y2="182" stroke="#ccc" stroke-width="0.3" />
<line x1="386" y1="178" x2="386" y2="182" stroke="#ccc" stroke-width="0.3" />
<line x1="390" y1="178" x2="390" y2="182" stroke="#ccc" stroke-width="0.3" />
<line x1="394" y1="178" x2="394" y2="182" stroke="#ccc" stroke-width="0.3" />
<line x1="398" y1="178" x2="398" y2="182" stroke="#ccc" stroke-width="0.3" />
<line x1="402" y1="178" x2="402" y2="182" stroke="#ccc" stroke-width="0.3" />
<line x1="406" y1="178" x2="406" y2="182" stroke="#ccc" stroke-width="0.3" />
<line x1="410" y1="178" x2="410" y2="182" stroke="#ccc" stroke-width="0.3" />
<line x1="414" y1="178" x2="414" y2="182" stroke="#ccc" stroke-width="0.3" />
<line x1="418" y1="178" x2="418" y2="182" stroke="#ccc" stroke-width="0.3" />
<line x1="422" y1="178" x2="422" y2="182" stroke="#ccc" stroke-width="0.3" />
<line x1="426" y1="178" x2="426" y2="182" stroke="#ccc" stroke-width="0.3" />
<line x1="430" y1="178" x2="430" y2="182" stroke="#ccc" stroke-width="0.3" />
<line x1="434" y1="178" x2="434" y2="182" stroke="#ccc" stroke-width="0.3" />
<line x1="438" y1="178" x2="438" y2="182" stroke="#ccc" stroke-width="0.3" />
<line x1="442" y1="178" x2="442" y2="182" stroke="#ccc" stroke-width="0.3" />
<line x1="446" y1="178" x2="446" y2="182" stroke="#ccc" stroke-width="0.3" />
<line x1="450" y1="178" x2="450" y2="182" stroke="#ccc" stroke-width="0.3" />
<line x1="454" y1="178" x2="454" y2="182" stroke="#ccc" stroke-width="0.3" />
<line x1="458" y1="178" x2="458" y2="182" stroke="#ccc" stroke-width="0.3" />
<line x1="462" y1="178" x2="462" y2="182" stroke="#ccc" stroke-width="0.3" />
<line x1="466" y1="178" x2="466" y2="182" stroke="#ccc" stroke-width="0.3" />
<line x1="470" y1="178" x2="470" y2="182" stroke="#ccc" stroke-width="0.3" />
<line x1="474" y1="178" x2="474" y2="182" stroke="#ccc" stroke-width="0.3" />
<line x1="478" y1="178" x2="478" y2="182" stroke="#ccc" stroke-width="0.3" />
<line x1="482" y1="178" x2="482" y2="182" stroke="#ccc" stroke-width="0.3" />
<line x1="486" y1="178" x2="486" y2="182" stroke="#ccc" stroke-width="0.3" />
<line x1="490" y1="178" x2="490" y2="182" stroke="#ccc" stroke-width="0.3" />
<line x1="494" y1="178" x2="494" y2="182" stroke="#ccc" stroke-width="0.3" />
<line x1="498" y1="178" x2="498" y2="182" stroke="#ccc" stroke-width="0.3" />
<line x1="502" y1="178" x2="502" y2="182" stroke="#ccc" stroke-width="0.3" />
<line x1="506" y1="178" x2="506" y2="182" stroke="#ccc" stroke-width="0.3" />
<line x1="510" y1="178" x2="510" y2="182" stroke="#ccc" stroke-width="0.3" />
<line x1="514" y1="178" x2="514" y2="182" stroke="#ccc" stroke-width="0.3" />
<line x1="518" y1="178" x2="518" y2="182" stroke="#ccc" stroke-width="0.3" />
<line x1="522" y1="178" x2="522" y2="182" stroke="#ccc" stroke-width="0.3" />
<line x1="526" y1="178" x2="526" y2="182" stroke="#ccc" stroke-width="0.3" />
<line x1="530" y1="178" x2="530" y2="182" stroke="#ccc" stroke-width="0.3" />
<line x1="534" y1="178" x2="534" y2="182" stroke="#ccc" stroke-width="0.3" />
<line x1="538" y1="178" x2="538" y2="182" stroke="#ccc" stroke-width="0.3" />
<line x1="542" y1="178" x2="542" y2="182" stroke="#ccc" stroke-width="0.3" />
<line x1="546" y1="178" x2="546" y2="182" stroke="#ccc" stroke-width="0.3" />
<line x1="550" y1="178" x2="550" y2="182" stroke="#ccc" stroke-width="0.3" />
<line x1="554" y1="178" x2="554" y2="182" stroke="#ccc" stroke-width="0.3" />
<line x1="558" y1="178" x2="558" y2="182" stroke="#ccc" stroke-width="0.3" />
<line x1="562" y1="178" x2="562" y2="182" stroke="#ccc" stroke-width="0.3" />
<line x1="566" y1="178" x2="566" y2="182" stroke="#ccc" stroke-width="0.3" />
<line x1="570" y1="178" x2="570" y2="182" stroke="#ccc" stroke-width="0.3" />
<line x1="574" y1="178" x2="574" y2="182" stroke="#ccc" stroke-width="0.3" />
<line x1="280" y1="180" x2="330" y2="180" stroke="#999" stroke-width="0.35" />
<path d="M276,177 h4 M278,177 v6 M276,183 h4" fill="none" stroke="#333" stroke-width="0.6" />
<path d="M325.5,177 h4 M327.5,177 v6 M325.5,183 h4" fill="none" stroke="#333" stroke-width="0.6" />
<path d="M375.5,177 h4 M377.5,177 v6 M375.5,183 h4" fill="none" stroke="#333" stroke-width="0.6" />
<path d="M425,177 h4 M427,177 v6 M425,183 h4" fill="none" stroke="#333" stroke-width="0.6" />
<path d="M474.5,177 h4 M476.5,177 v6 M474.5,183 h4" fill="none" stroke="#333" stroke-width="0.6" />
<path d="M524.5,177 h4 M526.5,177 v6 M524.5,183 h4" fill="none" stroke="#333" stroke-width="0.6" />
<path d="M574,177 h4 M576,177 v6 M574,183 h4" fill="none" stroke="#333" stroke-width="0.6" />
<path d="M623.5,177 h4 M625.5,177 v6 M623.5,183 h4" fill="none" stroke="#333" stroke-width="0.6" />
<path d="M673.5,177 h4 M675.5,177 v6 M673.5,183 h4" fill="none" stroke="#333" stroke-width="0.6" />
<line x1="257" y1="193.5" x2="663" y2="193.5" stroke="#999" stroke-width="0.45" />
<circle cx="327.5" cy="193.5" r="0.6" fill="#444" stroke="none" stroke-width="0.5"/>
<circle cx="257" cy="193.5" r="0.6" fill="#444" stroke="none" stroke-width="0.5"/>
<text x="411" y="191.5" font-size="4.29" fill="#111" stroke="#111" stroke-width="0.1" text-anchor="middle" font-weight="normal" >19200</text>
<line x1="595" y1="190" x2="663" y2="190" stroke="#999" stroke-width="0.4" />
<text x="615" y="189" font-size="4.29" fill="#111" stroke="#111" stroke-width="0.1" text-anchor="middle" font-weight="normal" >5240</text>
<text x="656" y="183" font-size="4.42" fill="#222" stroke="#222" stroke-width="0.1" text-anchor="middle" transform="rotate(-90 656 183)">200</text>
<text x="356" y="169" font-size="4.29" fill="#111" stroke="#111" stroke-width="0.1" text-anchor="start" font-weight="normal" >konvektor</text>
<polyline points="354,167 349,167 347,177" fill="none" stroke="#666" stroke-width="0.4" />
<text x="503" y="195.5" font-size="4.29" fill="#111" stroke="#111" stroke-width="0.1" text-anchor="start" font-weight="normal" >konvektor</text>
<polyline points="501,193.5 494,193.5 491,183" fill="none" stroke="#666" stroke-width="0.4" />
<text x="340" y="193" font-size="4.29" fill="#111" stroke="#111" stroke-width="0.1" text-anchor="start" font-weight="normal" >stålsøjler. Jfr.</text>
<text x="340" y="198" font-size="4.29" fill="#111" stroke="#111" stroke-width="0.1" text-anchor="start" font-weight="normal" >ingeniørprojekt</text>
<polyline points="338,192 333,192 328,183" fill="none" stroke="#666" stroke-width="0.4" />
<path d="M397.5,172 V157.25 A14.75,14.75 0 0 1 412.25,172 M427.0,172 V157.25 A14.75,14.75 0 0 0 412.25,172" fill="none" stroke="#777" stroke-width="0.45" />
<path d="M427,172 V157.25 A14.75,14.75 0 0 1 441.75,172 M456.5,172 V157.25 A14.75,14.75 0 0 0 441.75,172" fill="none" stroke="#777" stroke-width="0.45" />
<rect x="397.5" y="172" width="59" height="3.5" fill="#fff" stroke="#888" stroke-width="0.4" />
<rect x="662.5" y="175" width="2.5" height="138" fill="#bbb" stroke="#555" stroke-width="0.4" />
<rect x="662.5" y="320" width="2.5" height="30" fill="#bbb" stroke="#555" stroke-width="0.4" />
<text x="654" y="265" font-size="4.42" fill="#222" stroke="#222" stroke-width="0.1" text-anchor="middle" transform="rotate(-90 654 265)">9265</text>
<text x="546" y="265" font-size="4.42" fill="#222" stroke="#222" stroke-width="0.1" text-anchor="middle" transform="rotate(-90 546 265)">10465</text>
<line x1="549" y1="193" x2="549" y2="340" stroke="#999" stroke-width="0.4" />
<line x1="658" y1="183" x2="658" y2="340" stroke="#999" stroke-width="0.4" />
<defs><pattern id="vst" patternUnits="userSpaceOnUse" width="1.6" height="4"><rect width="1.6" height="4" fill="#fff"/><line x1="0.4" y1="0" x2="0.4" y2="4" stroke="#e2e2e2" stroke-width="0.45"/></pattern></defs>
<polygon points="594.5,194 662,194 662,325 612,325" fill="url(#vst)" stroke="#aaa" stroke-width="0.4" />
<line x1="565" y1="102" x2="596" y2="345" stroke="#888" stroke-width="0.45" />
<line x1="570" y1="102" x2="615" y2="345" stroke="#888" stroke-width="0.45" />
<line x1="575" y1="100" x2="590" y2="140" stroke="#aaa" stroke-width="0.4" stroke-dasharray="3 1.5" />
<text x="559" y="218" font-size="4.29" fill="#111" stroke="#111" stroke-width="0.1" text-anchor="start" font-weight="normal" >Trappe ned</text>
<polyline points="580,216 586,216 592,222" fill="none" stroke="#666" stroke-width="0.4" />
<line x1="577" y1="252" x2="610" y2="246" stroke="#666" stroke-width="0.45" />
<text x="592" y="248" font-size="4.16" fill="#111" stroke="#111" stroke-width="0.1" text-anchor="middle" font-weight="normal" >500 500</text>
<rect x="617.5" y="258.5" width="26.5" height="11.5" fill="#fff" stroke="#555" stroke-width="0.5" rx="5.75" ry="5.75"/>
<text x="630.75" y="265.37" font-size="4.16" fill="#111" stroke="#111" stroke-width="0.1" text-anchor="middle" font-weight="normal" >tilegulv</text>
<text x="615" y="279.0" font-size="4.29" fill="#111" stroke="#111" stroke-width="0.1" text-anchor="start" font-weight="normal" >H-0-06</text>
<text x="615" y="284.2" font-size="4.29" fill="#111" stroke="#111" stroke-width="0.1" text-anchor="start" font-weight="normal" >Tage-</text>
<text x="615" y="289.4" font-size="4.29" fill="#111" stroke="#111" stroke-width="0.1" text-anchor="start" font-weight="normal" >område</text>
<text x="615" y="296.6" font-size="4.29" fill="#111" stroke="#111" stroke-width="0.1" text-anchor="start" font-weight="normal" >Kote  37.376</text>
<text x="480" y="113" font-size="4.29" fill="#111" stroke="#111" stroke-width="0.1" text-anchor="start" font-weight="normal" >Terrasse,</text>
<text x="480" y="118" font-size="4.29" fill="#111" stroke="#111" stroke-width="0.1" text-anchor="start" font-weight="normal" >se landskabs projekt</text>
<text x="480" y="133" font-size="4.29" fill="#111" stroke="#111" stroke-width="0.1" text-anchor="start" font-weight="normal" >Kote  37.85</text>
<text x="613" y="143" font-size="4.29" fill="#111" stroke="#111" stroke-width="0.1" text-anchor="start" font-weight="normal" >Isoleret panel  med front</text>
<text x="613" y="148.5" font-size="4.29" fill="#111" stroke="#111" stroke-width="0.1" text-anchor="start" font-weight="normal" >af aluminium som facade.</text>
<polyline points="667,142 672,142 675,172" fill="none" stroke="#666" stroke-width="0.4" />
<rect x="285" y="265" width="61.5" height="50" fill="none" stroke="#555" stroke-width="0.5" />
<line x1="290.0" y1="266" x2="290.0" y2="315" stroke="#777" stroke-width="0.4" />
<line x1="294.6" y1="266" x2="294.6" y2="315" stroke="#777" stroke-width="0.4" />
<line x1="299.2" y1="266" x2="299.2" y2="315" stroke="#777" stroke-width="0.4" />
<line x1="303.8" y1="266" x2="303.8" y2="315" stroke="#777" stroke-width="0.4" />
<line x1="308.4" y1="266" x2="308.4" y2="315" stroke="#777" stroke-width="0.4" />
<line x1="313.0" y1="266" x2="313.0" y2="315" stroke="#777" stroke-width="0.4" />
<line x1="317.6" y1="266" x2="317.6" y2="315" stroke="#777" stroke-width="0.4" />
<line x1="322.2" y1="266" x2="322.2" y2="315" stroke="#777" stroke-width="0.4" />
<line x1="326.8" y1="266" x2="326.8" y2="315" stroke="#777" stroke-width="0.4" />
<line x1="331.4" y1="266" x2="331.4" y2="315" stroke="#777" stroke-width="0.4" />
<line x1="336.0" y1="266" x2="336.0" y2="315" stroke="#777" stroke-width="0.4" />
<line x1="340.6" y1="266" x2="340.6" y2="315" stroke="#777" stroke-width="0.4" />
<line x1="345.2" y1="266" x2="345.2" y2="315" stroke="#777" stroke-width="0.4" />
<line x1="206" y1="263.3" x2="251" y2="263.3" stroke="#777" stroke-width="1.5" />
<line x1="257" y1="261.5" x2="346" y2="261.5" stroke="#666" stroke-width="0.5" />
<line x1="251" y1="264" x2="346" y2="264" stroke="#555" stroke-width="0.5" />
<line x1="251" y1="261" x2="284.6" y2="315" stroke="#888" stroke-width="0.45" />
<line x1="261.6" y1="261" x2="291" y2="321.5" stroke="#888" stroke-width="0.45" />
<text x="299" y="284.5" font-size="4.29" fill="#111" stroke="#111" stroke-width="0.1" text-anchor="start" font-weight="normal" >Trappe til foyer</text>
<polyline points="298,283 292,283 289,276" fill="none" stroke="#666" stroke-width="0.4" />
<text x="355" y="291" font-size="4.42" fill="#222" stroke="#222" stroke-width="0.1" text-anchor="middle" transform="rotate(-90 355 291)">3050</text>
<text x="362" y="292" font-size="4.42" fill="#222" stroke="#222" stroke-width="0.1" text-anchor="middle" transform="rotate(-90 362 292)">3300</text>
<text x="355" y="263" font-size="4.42" fill="#222" stroke="#222" stroke-width="0.1" text-anchor="middle" transform="rotate(-90 355 263)">300</text>
<text x="355" y="319" font-size="4.42" fill="#222" stroke="#222" stroke-width="0.1" text-anchor="middle" transform="rotate(-90 355 319)">300</text>
<line x1="357.2" y1="252" x2="357.2" y2="340" stroke="#999" stroke-width="0.4" />
<line x1="364" y1="258" x2="364" y2="326" stroke="#999" stroke-width="0.4" />
<line x1="355" y1="260" x2="366" y2="260" stroke="#999" stroke-width="0.35" />
<line x1="355" y1="266" x2="366" y2="266" stroke="#999" stroke-width="0.35" />
<line x1="355" y1="314" x2="366" y2="314" stroke="#999" stroke-width="0.35" />
<line x1="355" y1="325" x2="366" y2="325" stroke="#999" stroke-width="0.35" />
<rect x="437.5" y="259.5" width="23.5" height="10.5" fill="#fff" stroke="#555" stroke-width="0.5" rx="5.25" ry="5.25"/>
<text x="449.25" y="265.87" font-size="4.16" fill="#111" stroke="#111" stroke-width="0.1" text-anchor="middle" font-weight="normal" >siebet beton</text>
<text x="437" y="285" font-size="4.29" fill="#111" stroke="#111" stroke-width="0.1" text-anchor="start" font-weight="normal" >H-0-05</text>
<text x="437" y="290" font-size="4.29" fill="#111" stroke="#111" stroke-width="0.1" text-anchor="start" font-weight="normal" >Opholdsrum</text>
<text x="437" y="299" font-size="4.29" fill="#111" stroke="#111" stroke-width="0.1" text-anchor="start" font-weight="normal" >Kote  37.85</text>
<line x1="186" y1="254" x2="340" y2="254" stroke="#aaa" stroke-width="0.4" stroke-dasharray="1.5 1" />
<line x1="186" y1="250" x2="340" y2="250" stroke="#aaa" stroke-width="0.4" stroke-dasharray="1.5 1" />
<line x1="280" y1="250" x2="290" y2="250" stroke="#aaa" stroke-width="0.4" />
<path d="M191,265 V280 A15,15 0 0 0 206,265" fill="none" stroke="#777" stroke-width="0.45" />
<rect x="285.5" y="326" width="4.9" height="312.6" fill="#c4c4c4" stroke="#444" stroke-width="0.55" />
<polyline points="281,332 285.2,335.3 281,338.6 285.2,341.90000000000003 281,345.20000000000005 285.2,348.50000000000006 281,351.80000000000007 285.2,355.1000000000001 281,358.4000000000001 285.2,361.7000000000001 281,365.0000000000001 285.2,368.3000000000001 281,371.60000000000014 285.2,374.90000000000015 281,378.20000000000016 285.2,381.50000000000017 281,384.8000000000002 285.2,388.1000000000002 281,391.4000000000002 285.2,394.7000000000002 281,398.0000000000002 285.2,401.30000000000024 281,404.60000000000025 285.2,407.90000000000026 281,411.2000000000003 285.2,414.5000000000003 281,417.8000000000003 285.2,421.1000000000003 281,424.4000000000003" fill="none" stroke="#888" stroke-width="0.4" />
<line x1="280.5" y1="330" x2="280.5" y2="425" stroke="#999" stroke-width="0.4" stroke-dasharray="1.5 1" />
<polygon points="296,407.5 590,510.4 590,516.4 296,413.5" fill="#eeeeee" stroke="#666" stroke-width="0.5" />
<line x1="296.0" y1="407.5" x2="305.0" y2="416.6" stroke="#999" stroke-width="0.45"/>
<line x1="301.0" y1="409.2" x2="310.0" y2="418.4" stroke="#999" stroke-width="0.45"/>
<line x1="306.0" y1="411.0" x2="315.0" y2="420.1" stroke="#999" stroke-width="0.45"/>
<line x1="311.0" y1="412.8" x2="320.0" y2="421.9" stroke="#999" stroke-width="0.45"/>
<line x1="316.0" y1="414.5" x2="325.0" y2="423.6" stroke="#999" stroke-width="0.45"/>
<line x1="321.0" y1="416.2" x2="330.0" y2="425.4" stroke="#999" stroke-width="0.45"/>
<line x1="326.0" y1="418.0" x2="335.0" y2="427.1" stroke="#999" stroke-width="0.45"/>
<line x1="331.0" y1="419.8" x2="340.0" y2="428.9" stroke="#999" stroke-width="0.45"/>
<line x1="336.0" y1="421.5" x2="345.0" y2="430.6" stroke="#999" stroke-width="0.45"/>
<line x1="341.0" y1="423.2" x2="350.0" y2="432.4" stroke="#999" stroke-width="0.45"/>
<line x1="346.0" y1="425.0" x2="355.0" y2="434.1" stroke="#999" stroke-width="0.45"/>
<line x1="351.0" y1="426.8" x2="360.0" y2="435.9" stroke="#999" stroke-width="0.45"/>
<line x1="356.0" y1="428.5" x2="365.0" y2="437.6" stroke="#999" stroke-width="0.45"/>
<line x1="361.0" y1="430.2" x2="370.0" y2="439.4" stroke="#999" stroke-width="0.45"/>
<line x1="366.0" y1="432.0" x2="375.0" y2="441.1" stroke="#999" stroke-width="0.45"/>
<line x1="371.0" y1="433.8" x2="380.0" y2="442.9" stroke="#999" stroke-width="0.45"/>
<line x1="376.0" y1="435.5" x2="385.0" y2="444.6" stroke="#999" stroke-width="0.45"/>
<line x1="381.0" y1="437.2" x2="390.0" y2="446.4" stroke="#999" stroke-width="0.45"/>
<line x1="386.0" y1="439.0" x2="395.0" y2="448.1" stroke="#999" stroke-width="0.45"/>
<line x1="391.0" y1="440.8" x2="400.0" y2="449.9" stroke="#999" stroke-width="0.45"/>
<line x1="396.0" y1="442.5" x2="405.0" y2="451.6" stroke="#999" stroke-width="0.45"/>
<line x1="401.0" y1="444.2" x2="410.0" y2="453.4" stroke="#999" stroke-width="0.45"/>
<line x1="406.0" y1="446.0" x2="415.0" y2="455.1" stroke="#999" stroke-width="0.45"/>
<line x1="411.0" y1="447.8" x2="420.0" y2="456.9" stroke="#999" stroke-width="0.45"/>
<line x1="416.0" y1="449.5" x2="425.0" y2="458.6" stroke="#999" stroke-width="0.45"/>
<line x1="421.0" y1="451.2" x2="430.0" y2="460.4" stroke="#999" stroke-width="0.45"/>
<line x1="426.0" y1="453.0" x2="435.0" y2="462.1" stroke="#999" stroke-width="0.45"/>
<line x1="431.0" y1="454.8" x2="440.0" y2="463.9" stroke="#999" stroke-width="0.45"/>
<line x1="436.0" y1="456.5" x2="445.0" y2="465.6" stroke="#999" stroke-width="0.45"/>
<line x1="441.0" y1="458.2" x2="450.0" y2="467.4" stroke="#999" stroke-width="0.45"/>
<line x1="446.0" y1="460.0" x2="455.0" y2="469.1" stroke="#999" stroke-width="0.45"/>
<line x1="451.0" y1="461.8" x2="460.0" y2="470.9" stroke="#999" stroke-width="0.45"/>
<line x1="456.0" y1="463.5" x2="465.0" y2="472.6" stroke="#999" stroke-width="0.45"/>
<line x1="461.0" y1="465.2" x2="470.0" y2="474.4" stroke="#999" stroke-width="0.45"/>
<line x1="466.0" y1="467.0" x2="475.0" y2="476.1" stroke="#999" stroke-width="0.45"/>
<line x1="471.0" y1="468.8" x2="480.0" y2="477.9" stroke="#999" stroke-width="0.45"/>
<line x1="476.0" y1="470.5" x2="485.0" y2="479.6" stroke="#999" stroke-width="0.45"/>
<line x1="481.0" y1="472.2" x2="490.0" y2="481.4" stroke="#999" stroke-width="0.45"/>
<line x1="486.0" y1="474.0" x2="495.0" y2="483.1" stroke="#999" stroke-width="0.45"/>
<line x1="491.0" y1="475.8" x2="500.0" y2="484.9" stroke="#999" stroke-width="0.45"/>
<line x1="496.0" y1="477.5" x2="505.0" y2="486.6" stroke="#999" stroke-width="0.45"/>
<line x1="501.0" y1="479.2" x2="510.0" y2="488.4" stroke="#999" stroke-width="0.45"/>
<line x1="506.0" y1="481.0" x2="515.0" y2="490.1" stroke="#999" stroke-width="0.45"/>
<line x1="511.0" y1="482.8" x2="520.0" y2="491.9" stroke="#999" stroke-width="0.45"/>
<line x1="516.0" y1="484.5" x2="525.0" y2="493.6" stroke="#999" stroke-width="0.45"/>
<line x1="521.0" y1="486.2" x2="530.0" y2="495.4" stroke="#999" stroke-width="0.45"/>
<line x1="526.0" y1="488.0" x2="535.0" y2="497.1" stroke="#999" stroke-width="0.45"/>
<line x1="531.0" y1="489.8" x2="540.0" y2="498.9" stroke="#999" stroke-width="0.45"/>
<line x1="536.0" y1="491.5" x2="545.0" y2="500.6" stroke="#999" stroke-width="0.45"/>
<line x1="541.0" y1="493.2" x2="550.0" y2="502.4" stroke="#999" stroke-width="0.45"/>
<line x1="546.0" y1="495.0" x2="555.0" y2="504.1" stroke="#999" stroke-width="0.45"/>
<line x1="551.0" y1="496.8" x2="560.0" y2="505.9" stroke="#999" stroke-width="0.45"/>
<line x1="556.0" y1="498.5" x2="565.0" y2="507.6" stroke="#999" stroke-width="0.45"/>
<line x1="561.0" y1="500.2" x2="570.0" y2="509.4" stroke="#999" stroke-width="0.45"/>
<line x1="566.0" y1="502.0" x2="575.0" y2="511.1" stroke="#999" stroke-width="0.45"/>
<line x1="571.0" y1="503.8" x2="580.0" y2="512.9" stroke="#999" stroke-width="0.45"/>
<line x1="576.0" y1="505.5" x2="585.0" y2="514.6" stroke="#999" stroke-width="0.45"/>
<line x1="290.4" y1="415.34000000000003" x2="760" y2="579.6999999999999" stroke="#555" stroke-width="0.6" />
<line x1="290.4" y1="417.54" x2="760" y2="581.9" stroke="#888" stroke-width="0.4" />
<line x1="290.4" y1="419.84000000000003" x2="760" y2="584.1999999999999" stroke="#444" stroke-width="0.9" stroke-dasharray="3.5 2" />
<text x="327.5" y="423.525" font-size="4.42" fill="#333" stroke="#333" stroke-width="0.1" text-anchor="middle" font-weight="normal" >Z</text>
<text x="377.5" y="441.025" font-size="4.42" fill="#333" stroke="#333" stroke-width="0.1" text-anchor="middle" font-weight="normal" >Z</text>
<text x="427" y="458.35" font-size="4.42" fill="#333" stroke="#333" stroke-width="0.1" text-anchor="middle" font-weight="normal" >Z</text>
<text x="476.5" y="475.675" font-size="4.42" fill="#333" stroke="#333" stroke-width="0.1" text-anchor="middle" font-weight="normal" >Z</text>
<text x="526.5" y="493.175" font-size="4.42" fill="#333" stroke="#333" stroke-width="0.1" text-anchor="middle" font-weight="normal" >Z</text>
<text x="576" y="510.5" font-size="4.42" fill="#333" stroke="#333" stroke-width="0.1" text-anchor="middle" font-weight="normal" >Z</text>
<line x1="55" y1="326" x2="290" y2="405.9" stroke="#999" stroke-width="0.45" stroke-dasharray="10 1.5 1 1.5" />
<line x1="55" y1="337" x2="290" y2="417.4" stroke="#999" stroke-width="0.45" stroke-dasharray="10 1.5 1 1.5" />
<circle cx="426.3" cy="462.5" r="21" fill="none" stroke="#555" stroke-width="0.5" stroke-dasharray="2 1.5"/>
<circle cx="601.5" cy="530" r="20.5" fill="none" stroke="#555" stroke-width="0.5" stroke-dasharray="2 1.5"/>
<text x="438" y="440" font-size="4.16" fill="#111" stroke="#111" stroke-width="0.1" text-anchor="start" font-weight="normal" >756</text>
<text x="356" y="419" font-size="4.29" fill="#111" stroke="#111" stroke-width="0.1" text-anchor="start" font-weight="normal" >konvektor</text>
<polyline points="354,417 348,417 345,429" fill="none" stroke="#666" stroke-width="0.4" />
<path d="M486,487.5 L481.5,498.5 A13,13 0 0 0 498,493" fill="none" stroke="#777" stroke-width="0.4" />
<path d="M509,500 L506,511 A13,13 0 0 1 498,493" fill="none" stroke="#777" stroke-width="0.4" />
<text x="482" y="513" font-size="4.29" fill="#111" stroke="#111" stroke-width="0.1" text-anchor="start" font-weight="normal" >Kote  37.85</text>
<text x="455" y="520.5" font-size="4.29" fill="#111" stroke="#111" stroke-width="0.1" text-anchor="start" font-weight="normal" >Terrasse,</text>
<text x="455" y="526" font-size="4.29" fill="#111" stroke="#111" stroke-width="0.1" text-anchor="start" font-weight="normal" >se landskabs projekt</text>
<line x1="429" y1="548" x2="432" y2="538" stroke="#777" stroke-width="0.4" />
<line x1="291" y1="377.5" x2="328" y2="377.5" stroke="#999" stroke-width="0.4" />
<text x="309" y="375" font-size="4.29" fill="#111" stroke="#111" stroke-width="0.1" text-anchor="middle" font-weight="normal" >2250</text>
<line x1="291" y1="338.3" x2="663" y2="338.3" stroke="#999" stroke-width="0.45" />
<text x="442" y="336.5" font-size="4.29" fill="#111" stroke="#111" stroke-width="0.1" text-anchor="middle" font-weight="normal" >18450</text>
<path d="M71.2,319.5 h3.6 M73,319.5 v4 M71.2,323.5 h3.6" fill="none" stroke="#444" stroke-width="0.5" />
<path d="M126.7,319.5 h3.6 M128.5,319.5 v4 M126.7,323.5 h3.6" fill="none" stroke="#444" stroke-width="0.5" />
<path d="M176.2,319.5 h3.6 M178,319.5 v4 M176.2,323.5 h3.6" fill="none" stroke="#444" stroke-width="0.5" />
<path d="M227.2,319.5 h3.6 M229,319.5 v4 M227.2,323.5 h3.6" fill="none" stroke="#444" stroke-width="0.5" />
<path d="M276.2,319.5 h3.6 M278,319.5 v4 M276.2,323.5 h3.6" fill="none" stroke="#444" stroke-width="0.5" />
<path d="M325.7,319.5 h3.6 M327.5,319.5 v4 M325.7,323.5 h3.6" fill="none" stroke="#444" stroke-width="0.5" />
<path d="M375.7,319.5 h3.6 M377.5,319.5 v4 M375.7,323.5 h3.6" fill="none" stroke="#444" stroke-width="0.5" />
<path d="M474.7,319.5 h3.6 M476.5,319.5 v4 M474.7,323.5 h3.6" fill="none" stroke="#444" stroke-width="0.5" />
<path d="M574.2,319.5 h3.6 M576,319.5 v4 M574.2,323.5 h3.6" fill="none" stroke="#444" stroke-width="0.5" />
<path d="M673.7,319.5 h3.6 M675.5,319.5 v4 M673.7,323.5 h3.6" fill="none" stroke="#444" stroke-width="0.5" />
<path d="M357,315 Q360,340 348,372" fill="none" stroke="#666" stroke-width="0.4" />
<path d="M502,315 Q502,340 491.7,372" fill="none" stroke="#666" stroke-width="0.4" />
<polyline points="482,301 482,308 476,308" fill="none" stroke="#555" stroke-width="0.45" />
<rect x="438" y="370" width="26" height="10.5" fill="#fff" stroke="#555" stroke-width="0.5" rx="5.25" ry="5.25"/>
<text x="451.0" y="376.37" font-size="4.16" fill="#111" stroke="#111" stroke-width="0.1" text-anchor="middle" font-weight="normal" >siebet beton</text>
<text x="436" y="393" font-size="4.29" fill="#111" stroke="#111" stroke-width="0.1" text-anchor="start" font-weight="normal" >H-0-07</text>
<text x="436" y="398" font-size="4.29" fill="#111" stroke="#111" stroke-width="0.1" text-anchor="start" font-weight="normal" >Opholdsrum</text>
<text x="436" y="406.5" font-size="4.29" fill="#111" stroke="#111" stroke-width="0.1" text-anchor="start" font-weight="normal" >Kote  37.85</text>
<text x="272" y="420" font-size="4.42" fill="#222" stroke="#222" stroke-width="0.1" text-anchor="middle" transform="rotate(-90 272 420)">300</text>
<text x="178" y="563" font-size="6.5" fill="#111" stroke="#111" stroke-width="0.1" text-anchor="middle" font-weight="bold" >C</text>
<text x="274" y="563" font-size="6.5" fill="#111" stroke="#111" stroke-width="0.1" text-anchor="middle" font-weight="bold" >D</text>
<text x="416" y="563" font-size="6.5" fill="#111" stroke="#111" stroke-width="0.1" text-anchor="middle" font-weight="bold" >E</text>
<line x1="187" y1="545" x2="187" y2="565" stroke="#555" stroke-width="0.45" />
<line x1="184" y1="565" x2="187" y2="565" stroke="#555" stroke-width="0.4" />
<line x1="280" y1="560" x2="287" y2="547" stroke="#555" stroke-width="0.45" />
<line x1="423" y1="560" x2="430" y2="547" stroke="#555" stroke-width="0.45" />
<defs><pattern id="hat" patternUnits="userSpaceOnUse" width="2.8" height="2.8" patternTransform="rotate(-45)"><rect width="2.8" height="2.8" fill="#e6e6e6"/><line x1="0" y1="0" x2="0" y2="2.8" stroke="#a8a8a8" stroke-width="0.8"/></pattern></defs>
<polygon points="684.3,155.8 729.7,155.8 729.7,166.7 738.3,166.7 738.3,333.8 730,333.8 730,349 684.3,349" fill="url(#hat)" stroke="#444" stroke-width="0.7" />
<line x1="693" y1="157" x2="693" y2="348" stroke="#999" stroke-width="0.5" stroke-dasharray="1.5 1.5" />
<line x1="688" y1="157" x2="688" y2="348" stroke="#bbb" stroke-width="0.4" stroke-dasharray="1 2" />
<line x1="684.3" y1="340" x2="738" y2="340" stroke="#888" stroke-width="0.4" />
<polyline points="727,298 727,304 721,304" fill="none" stroke="#666" stroke-width="0.4" />
<text x="702" y="348" font-size="4.16" fill="#111" stroke="#111" stroke-width="0.1" text-anchor="start" font-weight="normal" >Ø0</text>
<line x1="595.6" y1="349.4" x2="730" y2="349.4" stroke="#555" stroke-width="0.6" />
<line x1="595.6" y1="352.5" x2="722" y2="352.5" stroke="#444" stroke-width="0.8" />
<rect x="595.6" y="350" width="1.8" height="120" fill="#999" stroke="#444" stroke-width="0.35" />
<line x1="599" y1="355" x2="599" y2="465" stroke="#999" stroke-width="0.35" stroke-dasharray="1.5 1" />
<polygon points="595.6,468.5 676,493.5 676,496.5 595.6,471.5" fill="#c4c4c4" stroke="#444" stroke-width="0.45" />
<line x1="593" y1="473" x2="676" y2="499" stroke="#888" stroke-width="0.4" />
<rect x="607.8" y="352.5" width="1.8000000000000682" height="15.5" fill="#bbb" stroke="#444" stroke-width="0.4" />
<rect x="673.5" y="352.5" width="2.0" height="47.5" fill="#bbb" stroke="#444" stroke-width="0.4" />
<rect x="625.6" y="399.6" width="56.299999999999955" height="1.599999999999966" fill="#bbb" stroke="#444" stroke-width="0.4" />
<rect x="696" y="399.6" width="16" height="1.599999999999966" fill="#bbb" stroke="#444" stroke-width="0.4" />
<rect x="659.4" y="401" width="1.8000000000000682" height="46" fill="#bbb" stroke="#444" stroke-width="0.4" />
<rect x="598" y="447.3" width="13" height="1.5" fill="#bbb" stroke="#444" stroke-width="0.4" />
<rect x="625.6" y="447.3" width="63.799999999999955" height="1.5" fill="#bbb" stroke="#444" stroke-width="0.4" />
<rect x="666" y="448.8" width="2" height="15.599999999999966" fill="#bbb" stroke="#444" stroke-width="0.4" />
<rect x="607" y="392" width="1.7999999999999545" height="28" fill="#bbb" stroke="#444" stroke-width="0.4" />
<rect x="597" y="392.5" width="11" height="1.5" fill="#bbb" stroke="#444" stroke-width="0.4" />
<rect x="607" y="448.8" width="1.7999999999999545" height="21.19999999999999" fill="#bbb" stroke="#444" stroke-width="0.4" />
<rect x="640" y="466" width="1.5" height="16" fill="#bbb" stroke="#444" stroke-width="0.4" />
<rect x="674" y="356" width="2" height="12" fill="#bbb" stroke="#555" stroke-width="0.3" />
<rect x="609" y="355" width="65" height="10" fill="none" stroke="#aaa" stroke-width="0.35" stroke-dasharray="1.5 1"/>
<rect x="626" y="386" width="47" height="13" fill="none" stroke="#aaa" stroke-width="0.35" />
<path d="M640,388 l10,9 M650,388 l-10,9" fill="none" stroke="#aaa" stroke-width="0.3" />
<rect x="629" y="403" width="10" height="8" fill="none" stroke="#888" stroke-width="0.35" />
<rect x="640" y="403" width="8" height="6" fill="none" stroke="#bbb" stroke-width="0.35" />
<rect x="650" y="411" width="8" height="20" fill="#e6e6e6" stroke="#aaa" stroke-width="0.3" />
<path d="M652,404 l5,5 M657,404 l-5,5" fill="none" stroke="#bbb" stroke-width="0.3" />
<circle cx="601" cy="362" r="3.5" fill="none" stroke="#888" stroke-width="0.35"/>
<rect x="599" y="460" width="5" height="7" fill="none" stroke="#888" stroke-width="0.35" />
<ellipse cx="646" cy="474" rx="3.5" ry="2.5" fill="none" stroke="#888" stroke-width="0.35"/>
<path d="M612,404 A10,10 0 0 0 622,414" fill="none" stroke="#888" stroke-width="0.35" />
<path d="M685,404 A10,10 0 0 0 695,414" fill="none" stroke="#888" stroke-width="0.35" />
<path d="M655,455 A10,10 0 0 1 645,466" fill="none" stroke="#888" stroke-width="0.35" />
<path d="M680,455 A4,4 0 0 1 680,463" fill="none" stroke="#888" stroke-width="0.35" />
<circle cx="700" cy="349" r="25" fill="none" stroke="#777" stroke-width="0.45" stroke-dasharray="2 1.5"/>
<circle cx="745" cy="365" r="28" fill="none" stroke="#999" stroke-width="0.4" stroke-dasharray="2 1.5"/>
<text x="596" y="375" font-size="4.16" fill="#111" stroke="#111" stroke-width="0.1" text-anchor="start" font-weight="normal" >EI2 30-C</text>
<text x="600" y="380.5" font-size="4.16" fill="#111" stroke="#111" stroke-width="0.1" text-anchor="start" font-weight="normal" >650</text>
<text x="638" y="379.5" font-size="4.16" fill="#111" stroke="#111" stroke-width="0.1" text-anchor="start" font-weight="normal" >3910</text>
<text x="676" y="379" font-size="4.16" fill="#111" stroke="#111" stroke-width="0.1" text-anchor="start" font-weight="normal" >EI2 30-C</text>
<text x="610" y="387" font-size="4.16" fill="#111" stroke="#111" stroke-width="0.1" text-anchor="start" font-weight="normal" >H-0-29</text>
<text x="610" y="392" font-size="4.16" fill="#111" stroke="#111" stroke-width="0.1" text-anchor="start" font-weight="normal" >Cafe</text>
<text x="610" y="397.5" font-size="4.16" fill="#111" stroke="#111" stroke-width="0.1" text-anchor="start" font-weight="normal" >køkken</text>
<text x="682" y="392" font-size="4.16" fill="#111" stroke="#111" stroke-width="0.1" text-anchor="start" font-weight="normal" >H-0-19</text>
<text x="682" y="397" font-size="4.16" fill="#111" stroke="#111" stroke-width="0.1" text-anchor="start" font-weight="normal" >Opholdsrum</text>
<text x="629" y="424" font-size="4.16" fill="#111" stroke="#111" stroke-width="0.1" text-anchor="start" font-weight="normal" >H-0-10</text>
<text x="629" y="429.5" font-size="4.16" fill="#111" stroke="#111" stroke-width="0.1" text-anchor="start" font-weight="normal" >Opvask</text>
<text x="630" y="443" font-size="4.16" fill="#111" stroke="#111" stroke-width="0.1" text-anchor="start" font-weight="normal" >3040</text>
<text x="680" y="423" font-size="4.16" fill="#111" stroke="#111" stroke-width="0.1" text-anchor="start" font-weight="normal" >H-0-11</text>
<text x="680" y="428.5" font-size="4.16" fill="#111" stroke="#111" stroke-width="0.1" text-anchor="start" font-weight="normal" >Depot</text>
<text x="596" y="437" font-size="4.16" fill="#111" stroke="#111" stroke-width="0.1" text-anchor="start" font-weight="normal" >EI2 30-C</text>
<text x="600" y="442.5" font-size="4.16" fill="#111" stroke="#111" stroke-width="0.1" text-anchor="start" font-weight="normal" >650</text>
<text x="600" y="453.5" font-size="4.16" fill="#111" stroke="#111" stroke-width="0.1" text-anchor="start" font-weight="normal" >650</text>
<text x="621" y="453.5" font-size="4.16" fill="#111" stroke="#111" stroke-width="0.1" text-anchor="start" font-weight="normal" >1850</text>
<text x="649" y="453.5" font-size="4.16" fill="#111" stroke="#111" stroke-width="0.1" text-anchor="start" font-weight="normal" >1550</text>
<text x="613" y="461" font-size="4.16" fill="#111" stroke="#111" stroke-width="0.1" text-anchor="start" font-weight="normal" >H-0-12</text>
<text x="613" y="466.5" font-size="4.16" fill="#111" stroke="#111" stroke-width="0.1" text-anchor="start" font-weight="normal" >Omklædning</text>
<text x="657" y="473" font-size="4.16" fill="#111" stroke="#111" stroke-width="0.1" text-anchor="start" font-weight="normal" >H-0-V1</text>
<text x="657" y="478" font-size="4.16" fill="#111" stroke="#111" stroke-width="0.1" text-anchor="start" font-weight="normal" >Toilet</text>
<text x="605" y="419" font-size="4.16" fill="#111" stroke="#111" stroke-width="0.1" text-anchor="start" font-weight="normal" >130</text>
<rect x="625" y="365" width="25" height="11" fill="#fff" stroke="#555" stroke-width="0.5" rx="5.5" ry="5.5"/>
<text x="637.5" y="369.9" font-size="4.16" fill="#111" stroke="#111" stroke-width="0.1" text-anchor="middle" font-weight="normal" >fugefri</text>
<text x="637.5" y="373.38" font-size="4.16" fill="#111" stroke="#111" stroke-width="0.1" text-anchor="middle" font-weight="normal" >belægning</text>
<text x="664" y="375" font-size="4.42" fill="#222" stroke="#222" stroke-width="0.1" text-anchor="middle" transform="rotate(-90 664 375)">2640</text>
<text x="665" y="425" font-size="4.42" fill="#222" stroke="#222" stroke-width="0.1" text-anchor="middle" transform="rotate(-90 665 425)">2770</text>
<text x="560" y="363" font-size="4.29" fill="#111" stroke="#111" stroke-width="0.1" text-anchor="start" font-weight="normal" >Inspektions lem</text>
<text x="560" y="368" font-size="4.29" fill="#111" stroke="#111" stroke-width="0.1" text-anchor="start" font-weight="normal" >600 x 600</text>
<polyline points="590,361 594,361 598,366" fill="none" stroke="#666" stroke-width="0.4" />
<text x="555" y="386" font-size="4.29" fill="#111" stroke="#111" stroke-width="0.1" text-anchor="start" font-weight="normal" >H-0-08</text>
<text x="555" y="391" font-size="4.29" fill="#111" stroke="#111" stroke-width="0.1" text-anchor="start" font-weight="normal" >Café</text>
<rect x="553.3" y="351" width="14" height="97.5" fill="none" stroke="#999" stroke-width="0.45" rx="3"/>
<text x="545" y="400" font-size="4.42" fill="#222" stroke="#222" stroke-width="0.1" text-anchor="middle" transform="rotate(-90 545 400)">5850</text>
<text x="584.6" y="409" font-size="4.42" fill="#222" stroke="#222" stroke-width="0.1" text-anchor="middle" transform="rotate(-90 584.6 409)">7242</text>
<line x1="547.4" y1="350" x2="547.4" y2="448" stroke="#999" stroke-width="0.4" />
<line x1="587" y1="350" x2="587" y2="470" stroke="#999" stroke-width="0.4" />
<line x1="547" y1="454.4" x2="596" y2="454.4" stroke="#999" stroke-width="0.4" />
<circle cx="553.3" cy="454.4" r="0.6" fill="#555" stroke="none" stroke-width="0.5"/>
<circle cx="567.2" cy="454.4" r="0.6" fill="#555" stroke="none" stroke-width="0.5"/>
<text x="560" y="452.5" font-size="4.16" fill="#111" stroke="#111" stroke-width="0.1" text-anchor="middle" font-weight="normal" >800</text>
<text x="581" y="452.5" font-size="4.16" fill="#111" stroke="#111" stroke-width="0.1" text-anchor="middle" font-weight="normal" >1742</text>
<text x="555" y="331" font-size="4.29" fill="#111" stroke="#111" stroke-width="0.1" text-anchor="start" font-weight="normal" >se tegning</text>
<text x="555" y="336" font-size="4.29" fill="#111" stroke="#111" stroke-width="0.1" text-anchor="start" font-weight="normal" >T_A_H_521</text>
<polyline points="578,330 585,330 592,349" fill="none" stroke="#666" stroke-width="0.4" />
<text x="598" y="336.5" font-size="4.16" fill="#111" stroke="#111" stroke-width="0.1" text-anchor="start" font-weight="normal" >200</text>
<text x="627" y="336.5" font-size="4.16" fill="#111" stroke="#111" stroke-width="0.1" text-anchor="start" font-weight="normal" >3800</text>
<text x="618" y="311" font-size="4.29" fill="#111" stroke="#111" stroke-width="0.1" text-anchor="start" font-weight="normal" >Inspektions lem</text>
<text x="618" y="316" font-size="4.29" fill="#111" stroke="#111" stroke-width="0.1" text-anchor="start" font-weight="normal" >600 x 600</text>
<polyline points="645,309 652,309 660,316" fill="none" stroke="#666" stroke-width="0.4" />
<polygon points="720.0,347 725.5,347 720.4,364 714.9,364" fill="#c8c8c8" stroke="#444" stroke-width="0.45" />
<polygon points="710.4,379 715.9,379 706.3,411 700.8,411" fill="#c8c8c8" stroke="#444" stroke-width="0.45" />
<polygon points="694.2,433 699.7,433 689.5,467 684.0,467" fill="#c8c8c8" stroke="#444" stroke-width="0.45" />
<polygon points="681.3,476 686.8,476 681.7,493 676.2,493" fill="#c8c8c8" stroke="#444" stroke-width="0.45" />
<polygon points="765.0,344.4 771.0,344.4 731.864,466.7 725.864,466.7" fill="#d0d0d0" stroke="#444" stroke-width="0.45" />
<polygon points="720.008,485 726.008,485 718.008,510 712.008,510" fill="#d0d0d0" stroke="#444" stroke-width="0.45" />
<line x1="716.2" y1="378" x2="751.4" y2="387" stroke="#777" stroke-width="0.4" />
<line x1="714.6" y1="383.2" x2="749.7" y2="392.2" stroke="#777" stroke-width="0.4" />
<line x1="713.1" y1="388.4" x2="748.0" y2="397.4" stroke="#777" stroke-width="0.4" />
<line x1="711.5" y1="393.59999999999997" x2="746.4" y2="402.59999999999997" stroke="#777" stroke-width="0.4" />
<line x1="710.0" y1="398.79999999999995" x2="744.7" y2="407.79999999999995" stroke="#777" stroke-width="0.4" />
<line x1="708.4" y1="403.99999999999994" x2="743.0" y2="412.99999999999994" stroke="#777" stroke-width="0.4" />
<line x1="706.8" y1="409.19999999999993" x2="741.4" y2="418.19999999999993" stroke="#777" stroke-width="0.4" />
<line x1="705.3" y1="414.3999999999999" x2="739.7" y2="423.3999999999999" stroke="#777" stroke-width="0.4" />
<line x1="703.7" y1="419.5999999999999" x2="738.1" y2="428.5999999999999" stroke="#777" stroke-width="0.4" />
<line x1="702.2" y1="424.7999999999999" x2="736.4" y2="433.7999999999999" stroke="#777" stroke-width="0.4" />
<line x1="700.6" y1="429.9999999999999" x2="734.7" y2="438.9999999999999" stroke="#777" stroke-width="0.4" />
<line x1="699.0" y1="435.1999999999999" x2="733.1" y2="444.1999999999999" stroke="#777" stroke-width="0.4" />
<line x1="697.5" y1="440.39999999999986" x2="731.4" y2="449.39999999999986" stroke="#777" stroke-width="0.4" />
<line x1="695.9" y1="445.59999999999985" x2="729.7" y2="454.59999999999985" stroke="#777" stroke-width="0.4" />
<line x1="694.4" y1="450.79999999999984" x2="728.1" y2="459.79999999999984" stroke="#777" stroke-width="0.4" />
<line x1="692.8" y1="455.99999999999983" x2="726.4" y2="464.99999999999983" stroke="#777" stroke-width="0.4" />
<line x1="691.2" y1="461.1999999999998" x2="724.7" y2="470.1999999999998" stroke="#777" stroke-width="0.4" />
<line x1="689.7" y1="466.3999999999998" x2="723.1" y2="475.3999999999998" stroke="#777" stroke-width="0.4" />
<line x1="688.1" y1="471.5999999999998" x2="721.4" y2="480.5999999999998" stroke="#777" stroke-width="0.4" />
<line x1="686.6" y1="476.7999999999998" x2="719.8" y2="485.7999999999998" stroke="#777" stroke-width="0.4" />
<line x1="685.0" y1="481.9999999999998" x2="718.1" y2="490.9999999999998" stroke="#777" stroke-width="0.4" />
<line x1="721.1" y1="370" x2="685.1" y2="490" stroke="#777" stroke-width="0.4" stroke-dasharray="1.5 1.5" />
<line x1="720" y1="369.7" x2="757.5" y2="369.7" stroke="#444" stroke-width="0.7" stroke-dasharray="2.5 1.8" />
<line x1="722" y1="344.6" x2="765" y2="344.6" stroke="#444" stroke-width="0.9" stroke-dasharray="3 1.8" />
<polygon points="675,490 713.3,500 713.3,504 675,494" fill="#ddd" stroke="#555" stroke-width="0.45" />
<text x="690" y="483" font-size="3.9" fill="#111" stroke="#111" stroke-width="0.1" text-anchor="start" font-weight="normal" >Kældertrappe</text>
<line x1="770" y1="345" x2="809" y2="364" stroke="#666" stroke-width="0.5" />
<line x1="770" y1="349" x2="809" y2="368" stroke="#666" stroke-width="0.5" />
<line x1="757" y1="328" x2="808" y2="350" stroke="#888" stroke-width="0.4" />
<text x="773" y="229" font-size="6.24" fill="#111" stroke="#111" stroke-width="0.1" text-anchor="middle" font-weight="bold" >A</text>
<text x="775" y="304" font-size="6.24" fill="#111" stroke="#111" stroke-width="0.1" text-anchor="middle" font-weight="bold" >B</text>
<text x="743" y="334" font-size="6.24" fill="#111" stroke="#111" stroke-width="0.1" text-anchor="middle" font-weight="bold" >H</text>
<text x="745" y="432" font-size="4.42" fill="#111" stroke="#111" stroke-width="0.1" text-anchor="middle" font-weight="normal" >J</text>
<line x1="744.5" y1="434" x2="744.5" y2="437" stroke="#666" stroke-width="0.4" />
<text x="726" y="492" font-size="4.42" fill="#111" stroke="#111" stroke-width="0.1" text-anchor="middle" font-weight="normal" >J</text>
<line x1="725.5" y1="494" x2="725.5" y2="497" stroke="#666" stroke-width="0.4" />
<text x="782" y="230" font-size="4.29" fill="#111" stroke="#111" stroke-width="0.1" text-anchor="start" font-weight="normal" >Tegn. nr.</text>
<text x="782" y="236" font-size="4.29" fill="#111" stroke="#111" stroke-width="0.1" text-anchor="start" font-weight="normal" >T_A_H_307</text>
<polyline points="756,238 776,238 776,234" fill="none" stroke="#666" stroke-width="0.4" />
<text x="783" y="305" font-size="4.29" fill="#111" stroke="#111" stroke-width="0.1" text-anchor="start" font-weight="normal" >Tegn. nr.</text>
<text x="783" y="311" font-size="4.29" fill="#111" stroke="#111" stroke-width="0.1" text-anchor="start" font-weight="normal" >T_A_H_308</text>
<polyline points="756,311.5 776,311.5 776,308" fill="none" stroke="#666" stroke-width="0.4" />
<text x="758" y="334" font-size="4.29" fill="#111" stroke="#111" stroke-width="0.1" text-anchor="start" font-weight="normal" >Tegn. nr.</text>
<text x="758" y="340" font-size="4.29" fill="#111" stroke="#111" stroke-width="0.1" text-anchor="start" font-weight="normal" >T_A_H_314</text>
<polyline points="750,333 752,331 745,356" fill="none" stroke="#666" stroke-width="0.4" />
<text x="753" y="432" font-size="4.29" fill="#111" stroke="#111" stroke-width="0.1" text-anchor="start" font-weight="normal" >Tegn. nr.</text>
<text x="753" y="438" font-size="4.29" fill="#111" stroke="#111" stroke-width="0.1" text-anchor="start" font-weight="normal" >T_A_H_315</text>
<text x="733" y="492" font-size="4.29" fill="#111" stroke="#111" stroke-width="0.1" text-anchor="start" font-weight="normal" >Tegn. nr.</text>
<text x="733" y="498" font-size="4.29" fill="#111" stroke="#111" stroke-width="0.1" text-anchor="start" font-weight="normal" >T_A_H_316</text>
<line x1="740" y1="437" x2="752" y2="440" stroke="#666" stroke-width="0.4" />
<text x="768" y="256" font-size="4.29" fill="#111" stroke="#111" stroke-width="0.1" text-anchor="start" font-weight="normal" >Landskabs projekt</text>
<text x="768" y="261" font-size="4.29" fill="#111" stroke="#111" stroke-width="0.1" text-anchor="start" font-weight="normal" >Kote  37.50</text>
<text x="847.5" y="30" font-size="5.0" fill="#111" stroke="#111" stroke-width="0.1" text-anchor="start" font-weight="normal" >SIGNATURFORKLARING</text>
<text x="847.5" y="45.9" font-size="4.0" fill="#111" stroke="#111" stroke-width="0.1" text-anchor="start" font-weight="normal" >Eksisterende vægge</text>
<text x="847.5" y="57.199999999999996" font-size="4.0" fill="#111" stroke="#111" stroke-width="0.1" text-anchor="start" font-weight="normal" >Blænding af dørhul</text>
<text x="847.5" y="69.7" font-size="4.0" fill="#111" stroke="#111" stroke-width="0.1" text-anchor="start" font-weight="normal" >Eksisterende døre</text>
<text x="847.5" y="83.2" font-size="4.0" fill="#111" stroke="#111" stroke-width="0.1" text-anchor="start" font-weight="normal" >Nye døre</text>
<text x="847.5" y="98.4" font-size="4.0" fill="#111" stroke="#111" stroke-width="0.1" text-anchor="start" font-weight="normal" >Snit i dæk</text>
<text x="847.5" y="109.4" font-size="4.0" fill="#111" stroke="#111" stroke-width="0.1" text-anchor="start" font-weight="normal" >Nye beton vægge</text>
<text x="847.5" y="119.4" font-size="4.0" fill="#111" stroke="#111" stroke-width="0.1" text-anchor="start" font-weight="normal" >Ny letvæg</text>
<text x="847.5" y="130.4" font-size="4.0" fill="#111" stroke="#111" stroke-width="0.1" text-anchor="start" font-weight="normal" >Nye porebeton vægge</text>
<text x="847.5" y="140.70000000000002" font-size="4.0" fill="#111" stroke="#111" stroke-width="0.1" text-anchor="start" font-weight="normal" >Nye gips vægge</text>
<text x="847.5" y="150.9" font-size="4.0" fill="#111" stroke="#111" stroke-width="0.1" text-anchor="start" font-weight="normal" >Nye lette ventilerede ydervægge</text>
<text x="847.5" y="161.4" font-size="4.0" fill="#111" stroke="#111" stroke-width="0.1" text-anchor="start" font-weight="normal" >Nye glasfals facadepartier</text>
<text x="847.5" y="170.70000000000002" font-size="4.0" fill="#111" stroke="#111" stroke-width="0.1" text-anchor="start" font-weight="normal" >Indvendig glas med farve</text>
<text x="847.5" y="179.70000000000002" font-size="4.0" fill="#111" stroke="#111" stroke-width="0.1" text-anchor="start" font-weight="normal" >Brand beskyttet vindue</text>
<text x="847.5" y="191.4" font-size="4.0" fill="#111" stroke="#111" stroke-width="0.1" text-anchor="start" font-weight="normal" >udvendig facade isolering</text>
<text x="847.5" y="203.20000000000002" font-size="4.0" fill="#111" stroke="#111" stroke-width="0.1" text-anchor="start" font-weight="normal" >Nye fundaments isolering</text>
<text x="847.5" y="214.4" font-size="4.0" fill="#111" stroke="#111" stroke-width="0.1" text-anchor="start" font-weight="normal" >Gulvkonvektor</text>
<text x="847.5" y="226.4" font-size="4.0" fill="#111" stroke="#111" stroke-width="0.1" text-anchor="start" font-weight="normal" >Gulvtyper og behandlinger</text>
<text x="847.5" y="237.70000000000002" font-size="4.0" fill="#111" stroke="#111" stroke-width="0.1" text-anchor="start" font-weight="normal" >Vægge med skuelsk</text>
<rect x="909" y="39.3" width="37" height="5.7" fill="#f2f2f2" stroke="#444" stroke-width="0.5" />
<line x1="910" y1="42.1" x2="945" y2="42.1" stroke="#999" stroke-width="0.35" />
<rect x="909" y="50" width="37" height="5.5" fill="#c4c4c4" stroke="#444" stroke-width="0.5" />
<line x1="911" y1="50" x2="911" y2="55.5" stroke="#777" stroke-width="0.3" />
<line x1="913" y1="50" x2="913" y2="55.5" stroke="#777" stroke-width="0.3" />
<line x1="915" y1="50" x2="915" y2="55.5" stroke="#777" stroke-width="0.3" />
<line x1="917" y1="50" x2="917" y2="55.5" stroke="#777" stroke-width="0.3" />
<line x1="919" y1="50" x2="919" y2="55.5" stroke="#777" stroke-width="0.3" />
<line x1="921" y1="50" x2="921" y2="55.5" stroke="#777" stroke-width="0.3" />
<line x1="923" y1="50" x2="923" y2="55.5" stroke="#777" stroke-width="0.3" />
<line x1="925" y1="50" x2="925" y2="55.5" stroke="#777" stroke-width="0.3" />
<line x1="927" y1="50" x2="927" y2="55.5" stroke="#777" stroke-width="0.3" />
<line x1="929" y1="50" x2="929" y2="55.5" stroke="#777" stroke-width="0.3" />
<line x1="931" y1="50" x2="931" y2="55.5" stroke="#777" stroke-width="0.3" />
<line x1="933" y1="50" x2="933" y2="55.5" stroke="#777" stroke-width="0.3" />
<line x1="935" y1="50" x2="935" y2="55.5" stroke="#777" stroke-width="0.3" />
<line x1="937" y1="50" x2="937" y2="55.5" stroke="#777" stroke-width="0.3" />
<line x1="939" y1="50" x2="939" y2="55.5" stroke="#777" stroke-width="0.3" />
<line x1="941" y1="50" x2="941" y2="55.5" stroke="#777" stroke-width="0.3" />
<line x1="943" y1="50" x2="943" y2="55.5" stroke="#777" stroke-width="0.3" />
<line x1="945" y1="50" x2="945" y2="55.5" stroke="#777" stroke-width="0.3" />
<line x1="909" y1="52.7" x2="946" y2="52.7" stroke="#777" stroke-width="0.3" />
<path d="M913,63 L928,63 M913,63 L923,75 M928,63 L928,69" fill="none" stroke="#666" stroke-width="0.4" stroke-dasharray="1.5 1" />
<path d="M913,77 L928,77 L928,90 M913,77 A15,13 0 0 0 928,90" fill="none" stroke="#666" stroke-width="0.4" />
<line x1="913" y1="77" x2="913" y2="82" stroke="#666" stroke-width="0.4" />
<rect x="909" y="94.5" width="37" height="5.5" fill="#fff" stroke="#444" stroke-width="0.5" />
<line x1="910" y1="97.2" x2="945" y2="97.2" stroke="#999" stroke-width="0.35" stroke-dasharray="1.5 1" />
<rect x="909" y="105.5" width="37" height="5" fill="#b4b4b4" stroke="#444" stroke-width="0.5" />
<rect x="909" y="115.5" width="37" height="5.5" fill="#fff" stroke="#444" stroke-width="0.5" />
<line x1="910" y1="118.2" x2="945" y2="118.2" stroke="#888" stroke-width="0.5" stroke-dasharray="2 1" />
<rect x="909" y="127.8" width="37" height="2.4" fill="#bbb" stroke="#666" stroke-width="0.4" />
<rect x="909" y="138" width="37" height="2.2" fill="#ccc" stroke="#aaa" stroke-width="0.35" />
<rect x="909" y="147.5" width="37" height="5" fill="#eee" stroke="#444" stroke-width="0.5" />
<line x1="910" y1="148" x2="912" y2="152" stroke="#999" stroke-width="0.3" />
<line x1="912" y1="148" x2="914" y2="152" stroke="#999" stroke-width="0.3" />
<line x1="914" y1="148" x2="916" y2="152" stroke="#999" stroke-width="0.3" />
<line x1="916" y1="148" x2="918" y2="152" stroke="#999" stroke-width="0.3" />
<line x1="918" y1="148" x2="920" y2="152" stroke="#999" stroke-width="0.3" />
<line x1="920" y1="148" x2="922" y2="152" stroke="#999" stroke-width="0.3" />
<line x1="922" y1="148" x2="924" y2="152" stroke="#999" stroke-width="0.3" />
<line x1="924" y1="148" x2="926" y2="152" stroke="#999" stroke-width="0.3" />
<line x1="926" y1="148" x2="928" y2="152" stroke="#999" stroke-width="0.3" />
<line x1="928" y1="148" x2="930" y2="152" stroke="#999" stroke-width="0.3" />
<line x1="930" y1="148" x2="932" y2="152" stroke="#999" stroke-width="0.3" />
<line x1="932" y1="148" x2="934" y2="152" stroke="#999" stroke-width="0.3" />
<line x1="934" y1="148" x2="936" y2="152" stroke="#999" stroke-width="0.3" />
<line x1="936" y1="148" x2="938" y2="152" stroke="#999" stroke-width="0.3" />
<line x1="938" y1="148" x2="940" y2="152" stroke="#999" stroke-width="0.3" />
<line x1="940" y1="148" x2="942" y2="152" stroke="#999" stroke-width="0.3" />
<line x1="942" y1="148" x2="944" y2="152" stroke="#999" stroke-width="0.3" />
<line x1="944" y1="148" x2="946" y2="152" stroke="#999" stroke-width="0.3" />
<line x1="909" y1="158.2" x2="946" y2="158.2" stroke="#777" stroke-width="0.4" />
<line x1="909" y1="161.5" x2="946" y2="161.5" stroke="#777" stroke-width="0.4" />
<line x1="917" y1="158" x2="917" y2="161.5" stroke="#777" stroke-width="0.4" />
<line x1="938" y1="158" x2="938" y2="161.5" stroke="#777" stroke-width="0.4" />
<line x1="909" y1="168.8" x2="946" y2="168.8" stroke="#999" stroke-width="0.6" />
<rect x="918" y="176.5" width="17.5" height="3.5" fill="#b8b8b8" stroke="none" stroke-width="0.6" />
<rect x="909" y="188.3" width="37" height="4.2" fill="#fff" stroke="#444" stroke-width="0.5" />
<polyline points="910.0,189 911.5,192 913.0,189 914.5,192 916.0,189 917.5,192 919.0,189 920.5,192 922.0,189 923.5,192 925.0,189 926.5,192 928.0,189 929.5,192 931.0,189 932.5,192 934.0,189 935.5,192 937.0,189 938.5,192 940.0,189 941.5,192 943.0,189 944.5,192 946.0,189" fill="none" stroke="#777" stroke-width="0.3" />
<rect x="909" y="199.3" width="37" height="5" fill="#fff" stroke="#888" stroke-width="0.45" stroke-dasharray="1.5 1"/>
<polyline points="910,200 913,203.5 916,200 919,203.5 922,200 925,203.5 928,200 931,203.5 934,200 937,203.5 940,200 943,203.5 946,200" fill="none" stroke="#999" stroke-width="0.3" />
<rect x="909" y="210.5" width="37" height="5.5" fill="#f4f4f4" stroke="#aaa" stroke-width="0.45" />
<line x1="911" y1="211" x2="911" y2="215.5" stroke="#999" stroke-width="0.35" />
<line x1="913" y1="211" x2="913" y2="215.5" stroke="#999" stroke-width="0.35" />
<line x1="915" y1="211" x2="915" y2="215.5" stroke="#999" stroke-width="0.35" />
<line x1="917" y1="211" x2="917" y2="215.5" stroke="#999" stroke-width="0.35" />
<line x1="919" y1="211" x2="919" y2="215.5" stroke="#999" stroke-width="0.35" />
<line x1="921" y1="211" x2="921" y2="215.5" stroke="#999" stroke-width="0.35" />
<line x1="923" y1="211" x2="923" y2="215.5" stroke="#999" stroke-width="0.35" />
<line x1="925" y1="211" x2="925" y2="215.5" stroke="#999" stroke-width="0.35" />
<line x1="927" y1="211" x2="927" y2="215.5" stroke="#999" stroke-width="0.35" />
<line x1="929" y1="211" x2="929" y2="215.5" stroke="#999" stroke-width="0.35" />
<line x1="931" y1="211" x2="931" y2="215.5" stroke="#999" stroke-width="0.35" />
<line x1="933" y1="211" x2="933" y2="215.5" stroke="#999" stroke-width="0.35" />
<line x1="935" y1="211" x2="935" y2="215.5" stroke="#999" stroke-width="0.35" />
<line x1="937" y1="211" x2="937" y2="215.5" stroke="#999" stroke-width="0.35" />
<line x1="939" y1="211" x2="939" y2="215.5" stroke="#999" stroke-width="0.35" />
<line x1="941" y1="211" x2="941" y2="215.5" stroke="#999" stroke-width="0.35" />
<line x1="943" y1="211" x2="943" y2="215.5" stroke="#999" stroke-width="0.35" />
<line x1="945" y1="211" x2="945" y2="215.5" stroke="#999" stroke-width="0.35" />
<rect x="916" y="221" width="23.5" height="9.5" fill="#fff" stroke="#444" stroke-width="0.5" rx="4.7"/>
<text x="927.7" y="227.6" font-size="4.4" fill="#111" stroke="#111" stroke-width="0.1" text-anchor="middle" font-weight="normal" >XXX</text>
<path d="M909,236.5 q1.2,-1.5 2.4,0 q1.2,-1.5 2.4,0 q1.2,-1.5 2.4,0 q1.2,-1.5 2.4,0 q1.2,-1.5 2.4,0 q1.2,-1.5 2.4,0 q1.2,-1.5 2.4,0 q1.2,-1.5 2.4,0 q1.2,-1.5 2.4,0 q1.2,-1.5 2.4,0 q1.2,-1.5 2.4,0 q1.2,-1.5 2.4,0 q1.2,-1.5 2.4,0 q1.2,-1.5 2.4,0 q1.2,-1.5 2.4,0" fill="none" stroke="#777" stroke-width="0.4" />
<circle cx="830" cy="623.3" r="9.7" fill="none" stroke="#444" stroke-width="0.7"/>
<line x1="822" y1="627.5" x2="830" y2="624.5" stroke="#222" stroke-width="1.1" />
<text x="822.5" y="643.5" font-size="6.8" fill="#333" stroke="#333" stroke-width="0.1" text-anchor="start" font-weight="normal" textLength="49" lengthAdjust="spacingAndGlyphs">GROUNDFLOOR</text>
<g transform="translate(936,622) rotate(-42)" fill="none" stroke="#333" stroke-width="0.6"><rect x="14" y="-4.5" width="8.5" height="8.5"/><path d="M6,-1.5 L14,-1.5 M6,1.5 L14,1.5"/><path d="M-13,-4 L6,-4 L6,3 L-2,3 L-2,6 L-9,6 L-9,3 L-13,3 Z"/><rect x="-20" y="-1" width="7" height="6"/><path d="M-3,-2 l3,3 M0,-2 l-3,3 M8,2.5 l2,2"/></g>
<circle cx="950.8" cy="634.2" r="4.4" fill="none" stroke="#444" stroke-width="0.55"/>
<line x1="950.8" y1="630.5" x2="950.8" y2="634" stroke="#444" stroke-width="0.5" />
<line x1="810" y1="425" x2="739" y2="639" stroke="#222" stroke-width="1.3" stroke-dasharray="6 1.5 1.2 1.5" />
<polygon points="684.7,489 717.5,499.5 717.5,504.5 684.7,494" fill="#e0e0e0" stroke="#444" stroke-width="0.45" />
<polygon points="724,500.5 768,515.5 766,522.5 722,507.5" fill="#d8d8d8" stroke="#444" stroke-width="0.5" />
<polygon points="611.7,527.0 651,540.362 651,544.962 611.7,531.6" fill="#ddd" stroke="#333" stroke-width="0.6" />
<line x1="613" y1="528.442" x2="615" y2="531.042" stroke="#999" stroke-width="0.3" />
<line x1="616" y1="529.462" x2="618" y2="532.062" stroke="#999" stroke-width="0.3" />
<line x1="619" y1="530.482" x2="621" y2="533.082" stroke="#999" stroke-width="0.3" />
<line x1="622" y1="531.502" x2="624" y2="534.102" stroke="#999" stroke-width="0.3" />
<line x1="625" y1="532.5219999999999" x2="627" y2="535.122" stroke="#999" stroke-width="0.3" />
<line x1="628" y1="533.542" x2="630" y2="536.142" stroke="#999" stroke-width="0.3" />
<line x1="631" y1="534.562" x2="633" y2="537.162" stroke="#999" stroke-width="0.3" />
<line x1="634" y1="535.582" x2="636" y2="538.182" stroke="#999" stroke-width="0.3" />
<line x1="637" y1="536.602" x2="639" y2="539.202" stroke="#999" stroke-width="0.3" />
<line x1="640" y1="537.622" x2="642" y2="540.222" stroke="#999" stroke-width="0.3" />
<line x1="643" y1="538.6419999999999" x2="645" y2="541.242" stroke="#999" stroke-width="0.3" />
<line x1="646" y1="539.662" x2="648" y2="542.2620000000001" stroke="#999" stroke-width="0.3" />
<line x1="649" y1="540.682" x2="651" y2="543.282" stroke="#999" stroke-width="0.3" />
<polygon points="663.4,545 759.8,572 758,577.5 663.4,550" fill="#d6d6d6" stroke="#444" stroke-width="0.5" />
<polygon points="592,517 611.7,524 611.7,527 592,520" fill="#bbb" stroke="#777" stroke-width="0.35" />
<circle cx="611.7" cy="527" r="0.9" fill="#111" stroke="none" stroke-width="0.5"/>
<line x1="630" y1="541.6" x2="597" y2="645" stroke="#555" stroke-width="0.55" />
<line x1="633.3" y1="541.6" x2="601.6" y2="645" stroke="#555" stroke-width="0.55" />
<line x1="612.8" y1="528" x2="576.9" y2="638.2" stroke="#444" stroke-width="0.7" stroke-dasharray="2.5 1.8" />
<line x1="730" y1="455" x2="690" y2="580" stroke="#555" stroke-width="0.6" stroke-dasharray="3 1.5 1 1.5" />
<circle cx="769" cy="578.4" r="4.2" fill="none" stroke="#555" stroke-width="0.5"/>
<text x="769" y="580.2" font-size="4.77" fill="#111" stroke="#111" stroke-width="0.1" text-anchor="middle" font-weight="normal" >J</text>
<circle cx="768.2" cy="587.5" r="4.2" fill="none" stroke="#555" stroke-width="0.5"/>
<text x="768.2" y="589.3" font-size="4.77" fill="#111" stroke="#111" stroke-width="0.1" text-anchor="middle" font-weight="normal" >H</text>
<line x1="760" y1="578" x2="765" y2="578" stroke="#888" stroke-width="0.4" />
<line x1="740" y1="586" x2="764" y2="586" stroke="#888" stroke-width="0.4" />
<text x="723" y="532" font-size="6.24" fill="#111" stroke="#111" stroke-width="0.1" text-anchor="middle" font-weight="normal" >G</text>
<text x="730" y="532" font-size="4.29" fill="#111" stroke="#111" stroke-width="0.1" text-anchor="start" font-weight="normal" >Tegn. nr.</text>
<text x="730" y="537.5" font-size="4.29" fill="#111" stroke="#111" stroke-width="0.1" text-anchor="start" font-weight="normal" >T_A_H_313</text>
<polyline points="702,532 718,538 722,538" fill="none" stroke="#666" stroke-width="0.4" />
<text x="720" y="543" font-size="4.29" fill="#111" stroke="#111" stroke-width="0.1" text-anchor="start" font-weight="normal" >Kote</text>
<text x="720" y="548.5" font-size="4.29" fill="#111" stroke="#111" stroke-width="0.1" text-anchor="start" font-weight="normal" >+ 37.60</text>
<rect x="737" y="538.5" width="23" height="11.5" fill="#fff" stroke="#555" stroke-width="0.5" rx="5.75" ry="5.75"/>
<text x="748.5" y="543.65" font-size="4.16" fill="#111" stroke="#111" stroke-width="0.1" text-anchor="middle" font-weight="normal" >fugefri</text>
<text x="748.5" y="547.13" font-size="4.16" fill="#111" stroke="#111" stroke-width="0.1" text-anchor="middle" font-weight="normal" >belægning</text>
<text x="722" y="556" font-size="4.29" fill="#111" stroke="#111" stroke-width="0.1" text-anchor="start" font-weight="normal" >Nyt dør- og glasparti.</text>
<text x="722" y="561.5" font-size="4.29" fill="#111" stroke="#111" stroke-width="0.1" text-anchor="start" font-weight="normal" >EI-60-C ABDL</text>
<polyline points="720,555 712,555 705,530" fill="none" stroke="#666" stroke-width="0.4" />
<text x="638" y="525" font-size="4.29" fill="#111" stroke="#111" stroke-width="0.1" text-anchor="start" font-weight="normal" >linje viser</text>
<text x="638" y="530.5" font-size="4.29" fill="#111" stroke="#111" stroke-width="0.1" text-anchor="start" font-weight="normal" >kældertrap</text>
<polyline points="636,524 625,524 622,515" fill="none" stroke="#666" stroke-width="0.4" />
<text x="688" y="533.5" font-size="4.29" fill="#111" stroke="#111" stroke-width="0.1" text-anchor="start" font-weight="normal" >rampe</text>
<text x="690" y="539" font-size="4.29" fill="#111" stroke="#111" stroke-width="0.1" text-anchor="start" font-weight="normal" >slut</text>
<text x="612" y="494" font-size="4.29" fill="#111" stroke="#111" stroke-width="0.1" text-anchor="start" font-weight="normal" >rampe</text>
<text x="614" y="499.5" font-size="4.29" fill="#111" stroke="#111" stroke-width="0.1" text-anchor="start" font-weight="normal" >start</text>
<line x1="594" y1="482" x2="680" y2="506" stroke="#999" stroke-width="0.4" />
<line x1="588" y1="492.5" x2="700" y2="525" stroke="#999" stroke-width="0.4" />
<text x="591" y="487" font-size="5.98" fill="#111" stroke="#111" stroke-width="0.1" text-anchor="middle" font-weight="normal" >G</text>
<text x="598" y="484" font-size="4.16" fill="#111" stroke="#111" stroke-width="0.1" text-anchor="start" font-weight="normal" transform="rotate(18 598 484)">900</text>
<text x="647" y="497" font-size="4.16" fill="#111" stroke="#111" stroke-width="0.1" text-anchor="start" font-weight="normal" transform="rotate(18 647 497)">5000</text>
<text x="695" y="507" font-size="4.16" fill="#111" stroke="#111" stroke-width="0.1" text-anchor="start" font-weight="normal" >1900</text>
<text x="694" y="515" font-size="4.16" fill="#111" stroke="#111" stroke-width="0.1" text-anchor="start" font-weight="normal" >2550</text>
<text x="617" y="507" font-size="4.16" fill="#111" stroke="#111" stroke-width="0.1" text-anchor="start" font-weight="normal" >756</text>
<rect x="643" y="505" width="22" height="12" fill="#fff" stroke="#555" stroke-width="0.5" rx="6.0" ry="6.0"/>
<text x="654.0" y="510.4" font-size="4.16" fill="#111" stroke="#111" stroke-width="0.1" text-anchor="middle" font-weight="normal" >fugefri</text>
<text x="654.0" y="513.88" font-size="4.16" fill="#111" stroke="#111" stroke-width="0.1" text-anchor="middle" font-weight="normal" >belægning</text>
<text x="613" y="541" font-size="4.16" fill="#111" stroke="#111" stroke-width="0.1" text-anchor="start" font-weight="normal" >2632</text>
<text x="640" y="556" font-size="4.16" fill="#111" stroke="#111" stroke-width="0.1" text-anchor="start" font-weight="normal" >4500</text>
<text x="633" y="572" font-size="4.29" fill="#111" stroke="#111" stroke-width="0.1" text-anchor="start" font-weight="normal" >Ny bøglinur</text>
<polyline points="655,571 659,571 661,560" fill="none" stroke="#666" stroke-width="0.4" />
<text x="608" y="566" font-size="6.5" fill="#111" stroke="#111" stroke-width="0.1" text-anchor="middle" font-weight="normal" >F</text>
<polyline points="611,566 615,566 617,552" fill="none" stroke="#666" stroke-width="0.4" />
<text x="665" y="566" font-size="6.5" fill="#111" stroke="#111" stroke-width="0.1" text-anchor="middle" font-weight="normal" >H</text>
<polyline points="668,566 673,566 675,552" fill="none" stroke="#666" stroke-width="0.4" />
<text x="688" y="582" font-size="3.9" fill="#111" stroke="#111" stroke-width="0.1" text-anchor="start" font-weight="normal" transform="rotate(-72 688 582)">Isygning B</text>
<text x="698" y="586" font-size="3.9" fill="#111" stroke="#111" stroke-width="0.1" text-anchor="start" font-weight="normal" transform="rotate(-72 698 586)">Isygning D</text>
<path d="M765,522 A14,14 0 0 1 779,509" fill="none" stroke="#888" stroke-width="0.4" />
<line x1="680" y1="510" x2="730" y2="524" stroke="#aaa" stroke-width="0.4" />
<line x1="620" y1="520" x2="690" y2="540" stroke="#aaa" stroke-width="0.4" />
<line x1="667" y1="480" x2="760" y2="508" stroke="#aaa" stroke-width="0.4" />
<line x1="694" y1="470" x2="746" y2="486" stroke="#aaa" stroke-width="0.4" />
<line x1="620" y1="560" x2="665" y2="572" stroke="#aaa" stroke-width="0.4" />
<circle cx="61" cy="599.5" r="4.3" fill="#fff" stroke="#555" stroke-width="0.55"/>
<text x="61" y="601.4" font-size="5.4" fill="#000" stroke="#000" stroke-width="0.1" text-anchor="middle" font-weight="normal" >1</text>
<circle cx="71" cy="599.5" r="4.3" fill="#fff" stroke="#555" stroke-width="0.55"/>
<text x="71" y="601.4" font-size="5.4" fill="#000" stroke="#000" stroke-width="0.1" text-anchor="middle" font-weight="normal" >2</text>
<circle cx="128.5" cy="599.5" r="4.3" fill="#fff" stroke="#555" stroke-width="0.55"/>
<text x="128.5" y="601.4" font-size="5.4" fill="#000" stroke="#000" stroke-width="0.1" text-anchor="middle" font-weight="normal" >3</text>
<circle cx="178" cy="599.5" r="4.3" fill="#fff" stroke="#555" stroke-width="0.55"/>
<text x="178" y="601.4" font-size="5.4" fill="#000" stroke="#000" stroke-width="0.1" text-anchor="middle" font-weight="normal" >4</text>
<circle cx="228" cy="599.5" r="4.3" fill="#fff" stroke="#555" stroke-width="0.55"/>
<text x="228" y="601.4" font-size="5.4" fill="#000" stroke="#000" stroke-width="0.1" text-anchor="middle" font-weight="normal" >5</text>
<circle cx="278" cy="599.5" r="4.3" fill="#fff" stroke="#555" stroke-width="0.55"/>
<text x="278" y="601.4" font-size="5.4" fill="#000" stroke="#000" stroke-width="0.1" text-anchor="middle" font-weight="normal" >6</text>
<circle cx="327.5" cy="599.5" r="4.3" fill="#fff" stroke="#555" stroke-width="0.55"/>
<text x="327.5" y="601.4" font-size="5.4" fill="#000" stroke="#000" stroke-width="0.1" text-anchor="middle" font-weight="normal" >7</text>
<circle cx="377.5" cy="599.5" r="4.3" fill="#fff" stroke="#555" stroke-width="0.55"/>
<text x="377.5" y="601.4" font-size="5.4" fill="#000" stroke="#000" stroke-width="0.1" text-anchor="middle" font-weight="normal" >8</text>
<circle cx="427" cy="599.5" r="4.3" fill="#fff" stroke="#555" stroke-width="0.55"/>
<text x="427" y="601.4" font-size="5.4" fill="#000" stroke="#000" stroke-width="0.1" text-anchor="middle" font-weight="normal" >9</text>
<circle cx="476.5" cy="599.5" r="4.3" fill="#fff" stroke="#555" stroke-width="0.55"/>
<text x="476.5" y="601.4" font-size="4.8" fill="#000" stroke="#000" stroke-width="0.1" text-anchor="middle" font-weight="normal" >10</text>
<circle cx="526.5" cy="599.5" r="4.3" fill="#fff" stroke="#555" stroke-width="0.55"/>
<text x="526.5" y="601.4" font-size="4.8" fill="#000" stroke="#000" stroke-width="0.1" text-anchor="middle" font-weight="normal" >11</text>
<circle cx="576" cy="599.5" r="4.3" fill="#fff" stroke="#555" stroke-width="0.55"/>
<text x="576" y="601.4" font-size="4.8" fill="#000" stroke="#000" stroke-width="0.1" text-anchor="middle" font-weight="normal" >12</text>
<circle cx="625.5" cy="599.5" r="4.3" fill="#fff" stroke="#555" stroke-width="0.55"/>
<text x="625.5" y="601.4" font-size="4.8" fill="#000" stroke="#000" stroke-width="0.1" text-anchor="middle" font-weight="normal" >13</text>
<circle cx="675.5" cy="599.5" r="4.3" fill="#fff" stroke="#555" stroke-width="0.55"/>
<text x="675.5" y="601.4" font-size="4.8" fill="#000" stroke="#000" stroke-width="0.1" text-anchor="middle" font-weight="normal" >14</text>
<circle cx="738" cy="599.5" r="4.3" fill="#fff" stroke="#555" stroke-width="0.55"/>
<text x="738" y="601.4" font-size="4.8" fill="#000" stroke="#000" stroke-width="0.1" text-anchor="middle" font-weight="normal" >15</text>
<circle cx="13" cy="156" r="4.3" fill="#fff" stroke="#555" stroke-width="0.55"/>
<text x="13" y="157.9" font-size="5.2" fill="#000" stroke="#000" stroke-width="0.1" text-anchor="middle" font-weight="normal" >G</text>
<circle cx="13" cy="177.5" r="4.3" fill="#fff" stroke="#555" stroke-width="0.55"/>
<text x="13" y="179.4" font-size="5.2" fill="#000" stroke="#000" stroke-width="0.1" text-anchor="middle" font-weight="normal" >F</text>
<circle cx="13" cy="323" r="4.3" fill="#fff" stroke="#555" stroke-width="0.55"/>
<text x="13" y="324.9" font-size="5.2" fill="#000" stroke="#000" stroke-width="0.1" text-anchor="middle" font-weight="normal" >E</text>
<circle cx="32" cy="325" r="4.3" fill="#fff" stroke="#555" stroke-width="0.55"/>
<text x="32" y="326.9" font-size="5.2" fill="#000" stroke="#000" stroke-width="0.1" text-anchor="middle" font-weight="normal" >D</text>
<circle cx="13" cy="344.5" r="4.3" fill="#fff" stroke="#555" stroke-width="0.55"/>
<text x="13" y="346.4" font-size="5.2" fill="#000" stroke="#000" stroke-width="0.1" text-anchor="middle" font-weight="normal" >C</text>
<circle cx="13" cy="354" r="4.3" fill="#fff" stroke="#555" stroke-width="0.55"/>
<text x="13" y="355.9" font-size="5.2" fill="#000" stroke="#000" stroke-width="0.1" text-anchor="middle" font-weight="normal" >A</text>
<circle cx="32" cy="353" r="4.3" fill="#fff" stroke="#555" stroke-width="0.55"/>
<text x="32" y="354.9" font-size="5.2" fill="#000" stroke="#000" stroke-width="0.1" text-anchor="middle" font-weight="normal" >B</text>
</svg></body></html>
